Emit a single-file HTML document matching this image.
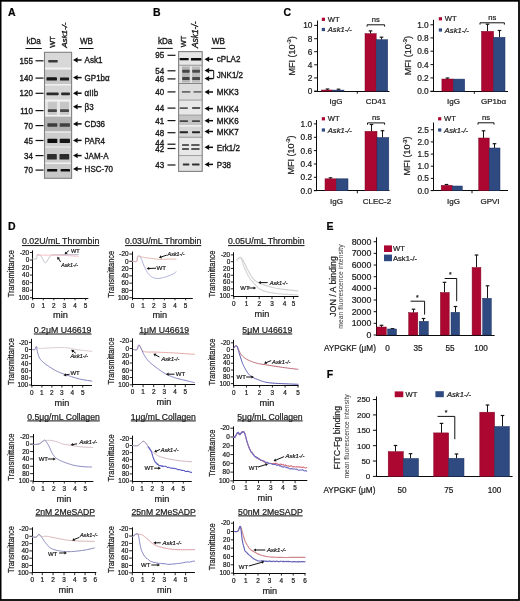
<!DOCTYPE html>
<html><head><meta charset="utf-8"><title>Figure</title>
<style>html,body{margin:0;padding:0;background:#fff;}body{width:520px;height:601px;overflow:hidden;font-family:"Liberation Sans",sans-serif;}svg{display:block;filter:blur(0.3px);}</style>
</head><body>
<svg width="520" height="601" viewBox="0 0 520 601" font-family="Liberation Sans, sans-serif">
<style>text{stroke:#1c1c1c;stroke-width:0.22px;}</style>
<defs><filter id="bl" x="-20%" y="-80%" width="140%" height="260%"><feGaussianBlur stdDeviation="0.45"/></filter></defs>
<rect x="0" y="0" width="520" height="601" fill="#ffffff"/>
<text x="7.9" y="15.9" font-size="10.5" text-anchor="start" font-weight="bold" fill="#000">A</text>
<text x="153.0" y="15.8" font-size="10.5" text-anchor="start" font-weight="bold" fill="#000">B</text>
<text x="283.4" y="15.6" font-size="10.5" text-anchor="start" font-weight="bold" fill="#000">C</text>
<text x="7.9" y="230.4" font-size="10.5" text-anchor="start" font-weight="bold" fill="#000">D</text>
<text x="326.6" y="230.3" font-size="10.5" text-anchor="start" font-weight="bold" fill="#000">E</text>
<text x="326.8" y="378.4" font-size="10.5" text-anchor="start" font-weight="bold" fill="#000">F</text>
<text x="0" y="0" font-size="8.7" text-anchor="middle" fill="#1c1c1c" transform="translate(33.6 43.6) scale(0.93 1)" style="stroke-width:0.38px">kDa</text>
<line x1="25.5" y1="48.5" x2="41.8" y2="48.5" stroke="#111" stroke-width="1.0"/>
<text x="0" y="0" font-size="8.7" text-anchor="middle" fill="#1c1c1c" transform="translate(86.5 43.6) scale(0.93 1)" style="stroke-width:0.38px">WB</text>
<line x1="79.0" y1="48.5" x2="93.6" y2="48.5" stroke="#111" stroke-width="1.0"/>
<text x="55.3" y="47.7" font-size="7.4" text-anchor="start" fill="#1c1c1c" transform="rotate(-90 55.3 47.7)" style="stroke-width:0.38px">WT</text>
<text x="67.1" y="47.8" font-size="8.0" text-anchor="start" font-style="italic" fill="#1c1c1c" transform="rotate(-90 67.1 47.8)" style="stroke-width:0.38px">Ask1-/-</text>
<rect x="44.10" y="52.00" width="27.80" height="126.50" fill="#f2f2f2"/>
<rect x="44.60" y="52.40" width="26.80" height="15.10" fill="#d8d8d8"/>
<rect x="44.60" y="69.60" width="26.80" height="14.40" fill="#c6c6c6"/>
<rect x="44.60" y="85.50" width="26.80" height="14.00" fill="#d6d6d6"/>
<rect x="44.60" y="101.50" width="26.80" height="13.50" fill="#e6e6e6"/>
<rect x="47.80" y="101.80" width="9.10" height="13.00" fill="#c6c6c6"/>
<rect x="60.00" y="101.80" width="9.00" height="13.00" fill="#c6c6c6"/>
<rect x="44.60" y="116.60" width="26.80" height="14.70" fill="#b2b2b2"/>
<rect x="44.60" y="132.60" width="26.80" height="14.00" fill="#cdcdcd"/>
<rect x="44.60" y="147.50" width="26.80" height="15.00" fill="#cccccc"/>
<rect x="44.60" y="164.00" width="26.80" height="14.00" fill="#c8c8c8"/>
<rect x="48.20" y="60.00" width="9.50" height="2.40" rx="0.6" fill="#3a3a3a" filter="url(#bl)"/>
<rect x="46.50" y="77.30" width="10.40" height="3.20" rx="0.6" fill="#121212" filter="url(#bl)"/>
<rect x="60.00" y="77.50" width="9.00" height="3.00" rx="0.6" fill="#1a1a1a" filter="url(#bl)"/>
<rect x="46.50" y="92.60" width="12.10" height="2.60" rx="0.6" fill="#2a2a2a" filter="url(#bl)"/>
<rect x="61.20" y="92.60" width="8.70" height="2.60" rx="0.6" fill="#2a2a2a" filter="url(#bl)"/>
<rect x="47.80" y="109.30" width="9.10" height="2.60" rx="0.6" fill="#444" filter="url(#bl)"/>
<rect x="60.00" y="109.30" width="9.00" height="2.60" rx="0.6" fill="#444" filter="url(#bl)"/>
<rect x="47.40" y="123.20" width="9.90" height="3.60" rx="0.6" fill="#3c3c3c" filter="url(#bl)"/>
<rect x="59.70" y="123.20" width="10.20" height="3.60" rx="0.6" fill="#404040" filter="url(#bl)"/>
<rect x="47.40" y="138.80" width="9.90" height="4.20" rx="0.6" fill="#0e0e0e" filter="url(#bl)"/>
<rect x="59.70" y="138.80" width="10.20" height="4.20" rx="0.6" fill="#121212" filter="url(#bl)"/>
<rect x="47.10" y="154.10" width="9.70" height="5.40" rx="0.6" fill="#2e2e2e" filter="url(#bl)"/>
<rect x="59.50" y="154.10" width="9.70" height="5.40" rx="0.6" fill="#2a2a2a" filter="url(#bl)"/>
<rect x="47.10" y="169.00" width="10.10" height="2.60" rx="0.6" fill="#0a0a0a" filter="url(#bl)"/>
<rect x="60.60" y="169.10" width="9.40" height="2.40" rx="0.6" fill="#0e0e0e" filter="url(#bl)"/>
<rect x="44.50" y="52.30" width="27.10" height="126.00" fill="none" stroke="#808080" stroke-width="1.1"/>
<text x="0" y="0" font-size="8.6" text-anchor="end" fill="#1c1c1c" transform="translate(32.9 63.8) scale(0.93 1)" style="stroke-width:0.38px">155</text>
<line x1="35.5" y1="60.8" x2="43.5" y2="60.8" stroke="#111" stroke-width="1.2"/>
<text x="0" y="0" font-size="8.6" text-anchor="end" fill="#1c1c1c" transform="translate(32.9 81.1) scale(0.93 1)" style="stroke-width:0.38px">140</text>
<line x1="35.5" y1="78.1" x2="43.5" y2="78.1" stroke="#111" stroke-width="1.2"/>
<text x="0" y="0" font-size="8.6" text-anchor="end" fill="#1c1c1c" transform="translate(32.9 96.3) scale(0.93 1)" style="stroke-width:0.38px">120</text>
<line x1="35.5" y1="93.3" x2="43.5" y2="93.3" stroke="#111" stroke-width="1.2"/>
<text x="0" y="0" font-size="8.6" text-anchor="end" fill="#1c1c1c" transform="translate(32.9 113.6) scale(0.93 1)" style="stroke-width:0.38px">110</text>
<line x1="35.5" y1="110.6" x2="43.5" y2="110.6" stroke="#111" stroke-width="1.2"/>
<text x="0" y="0" font-size="8.6" text-anchor="end" fill="#1c1c1c" transform="translate(32.9 128.6) scale(0.93 1)" style="stroke-width:0.38px">70</text>
<line x1="35.5" y1="125.6" x2="43.5" y2="125.6" stroke="#111" stroke-width="1.2"/>
<text x="0" y="0" font-size="8.6" text-anchor="end" fill="#1c1c1c" transform="translate(32.9 143.5) scale(0.93 1)" style="stroke-width:0.38px">45</text>
<line x1="35.5" y1="140.5" x2="43.5" y2="140.5" stroke="#111" stroke-width="1.2"/>
<text x="0" y="0" font-size="8.6" text-anchor="end" fill="#1c1c1c" transform="translate(32.9 158.6) scale(0.93 1)" style="stroke-width:0.38px">34</text>
<line x1="35.5" y1="155.6" x2="43.5" y2="155.6" stroke="#111" stroke-width="1.2"/>
<text x="0" y="0" font-size="8.6" text-anchor="end" fill="#1c1c1c" transform="translate(32.9 173.1) scale(0.93 1)" style="stroke-width:0.38px">70</text>
<line x1="35.5" y1="170.1" x2="43.5" y2="170.1" stroke="#111" stroke-width="1.2"/>
<line x1="76.84" y1="60.0" x2="81.6" y2="60.0" stroke="#0a0a0a" stroke-width="1.5"/>
<path d="M73.0,60.0 L77.8,57.3 L77.416,60.0 L77.8,62.7 Z" fill="#0a0a0a"/>
<text x="0" y="0" font-size="8.8" text-anchor="start" fill="#1c1c1c" transform="translate(84.6 63.2) scale(0.91 1)" style="stroke-width:0.38px">Ask1</text>
<line x1="76.84" y1="77.6" x2="81.6" y2="77.6" stroke="#0a0a0a" stroke-width="1.5"/>
<path d="M73.0,77.6 L77.8,74.89999999999999 L77.416,77.6 L77.8,80.3 Z" fill="#0a0a0a"/>
<text x="0" y="0" font-size="8.8" text-anchor="start" fill="#1c1c1c" transform="translate(84.6 80.8) scale(0.91 1)" style="stroke-width:0.38px">GP1bα</text>
<line x1="76.84" y1="93.2" x2="81.6" y2="93.2" stroke="#0a0a0a" stroke-width="1.5"/>
<path d="M73.0,93.2 L77.8,90.5 L77.416,93.2 L77.8,95.9 Z" fill="#0a0a0a"/>
<text x="0" y="0" font-size="8.8" text-anchor="start" fill="#1c1c1c" transform="translate(84.6 96.4) scale(0.91 1)" style="stroke-width:0.38px">αIIb</text>
<line x1="76.84" y1="106.8" x2="81.6" y2="106.8" stroke="#0a0a0a" stroke-width="1.5"/>
<path d="M73.0,106.8 L77.8,104.1 L77.416,106.8 L77.8,109.5 Z" fill="#0a0a0a"/>
<text x="0" y="0" font-size="8.8" text-anchor="start" fill="#1c1c1c" transform="translate(84.6 110.0) scale(0.91 1)" style="stroke-width:0.38px">β3</text>
<line x1="76.84" y1="123.9" x2="81.6" y2="123.9" stroke="#0a0a0a" stroke-width="1.5"/>
<path d="M73.0,123.9 L77.8,121.2 L77.416,123.9 L77.8,126.60000000000001 Z" fill="#0a0a0a"/>
<text x="0" y="0" font-size="8.8" text-anchor="start" fill="#1c1c1c" transform="translate(84.6 127.10000000000001) scale(0.91 1)" style="stroke-width:0.38px">CD36</text>
<line x1="76.84" y1="140.4" x2="81.6" y2="140.4" stroke="#0a0a0a" stroke-width="1.5"/>
<path d="M73.0,140.4 L77.8,137.70000000000002 L77.416,140.4 L77.8,143.1 Z" fill="#0a0a0a"/>
<text x="0" y="0" font-size="8.8" text-anchor="start" fill="#1c1c1c" transform="translate(84.6 143.6) scale(0.91 1)" style="stroke-width:0.38px">PAR4</text>
<line x1="76.84" y1="155.6" x2="81.6" y2="155.6" stroke="#0a0a0a" stroke-width="1.5"/>
<path d="M73.0,155.6 L77.8,152.9 L77.416,155.6 L77.8,158.29999999999998 Z" fill="#0a0a0a"/>
<text x="0" y="0" font-size="8.8" text-anchor="start" fill="#1c1c1c" transform="translate(84.6 158.79999999999998) scale(0.91 1)" style="stroke-width:0.38px">JAM-A</text>
<line x1="76.84" y1="168.9" x2="81.6" y2="168.9" stroke="#0a0a0a" stroke-width="1.5"/>
<path d="M73.0,168.9 L77.8,166.20000000000002 L77.416,168.9 L77.8,171.6 Z" fill="#0a0a0a"/>
<text x="0" y="0" font-size="8.8" text-anchor="start" fill="#1c1c1c" transform="translate(84.6 172.1) scale(0.91 1)" style="stroke-width:0.38px">HSC-70</text>
<text x="0" y="0" font-size="8.7" text-anchor="middle" fill="#1c1c1c" transform="translate(165.1 43.6) scale(0.93 1)" style="stroke-width:0.38px">kDa</text>
<line x1="157.2" y1="48.4" x2="172.8" y2="48.4" stroke="#111" stroke-width="1.0"/>
<text x="0" y="0" font-size="8.7" text-anchor="middle" fill="#1c1c1c" transform="translate(218.4 43.6) scale(0.93 1)" style="stroke-width:0.38px">WB</text>
<line x1="211.2" y1="48.4" x2="225.6" y2="48.4" stroke="#111" stroke-width="1.0"/>
<text x="186.3" y="47.3" font-size="7.4" text-anchor="start" fill="#1c1c1c" transform="rotate(-90 186.3 47.3)" style="stroke-width:0.38px">WT</text>
<text x="198.4" y="48.0" font-size="8.4" text-anchor="start" font-style="italic" fill="#1c1c1c" transform="rotate(-90 198.4 48.0)" style="stroke-width:0.38px">Ask1-/-</text>
<rect x="178.30" y="51.30" width="24.10" height="120.30" fill="#f2f2f2"/>
<rect x="178.80" y="51.80" width="23.10" height="13.50" fill="#e6e6e6"/>
<line x1="178.8" y1="65.3" x2="201.9" y2="65.3" stroke="#7a7a7a" stroke-width="0.9"/>
<rect x="178.80" y="65.80" width="23.10" height="17.70" fill="#e2e2e2"/>
<line x1="178.8" y1="83.5" x2="201.9" y2="83.5" stroke="#7a7a7a" stroke-width="0.9"/>
<rect x="182.00" y="66.50" width="7.80" height="16.00" fill="#b4b4b4"/>
<rect x="192.00" y="66.50" width="8.00" height="16.00" fill="#bcbcbc"/>
<rect x="178.80" y="84.00" width="23.10" height="16.20" fill="#dddddd"/>
<line x1="178.8" y1="100.2" x2="201.9" y2="100.2" stroke="#7a7a7a" stroke-width="0.9"/>
<rect x="178.80" y="100.70" width="23.10" height="14.50" fill="#e8e8e8"/>
<line x1="178.8" y1="115.2" x2="201.9" y2="115.2" stroke="#7a7a7a" stroke-width="0.9"/>
<rect x="178.80" y="115.70" width="23.10" height="9.60" fill="#c4c4c4"/>
<rect x="178.80" y="125.30" width="23.10" height="1.30" fill="#f2f2f2"/>
<rect x="178.80" y="126.60" width="23.10" height="10.70" fill="#d6d6d6"/>
<line x1="178.8" y1="137.3" x2="201.9" y2="137.3" stroke="#7a7a7a" stroke-width="0.9"/>
<rect x="178.80" y="137.80" width="23.10" height="18.00" fill="#e8e8e8"/>
<line x1="178.8" y1="155.8" x2="201.9" y2="155.8" stroke="#7a7a7a" stroke-width="0.9"/>
<rect x="178.80" y="156.30" width="23.10" height="14.90" fill="#e2e2e2"/>
<rect x="179.60" y="57.90" width="9.10" height="2.40" rx="0.6" fill="#0c0c0c" filter="url(#bl)"/>
<rect x="190.90" y="58.10" width="10.60" height="2.40" rx="0.6" fill="#0c0c0c" filter="url(#bl)"/>
<rect x="182.20" y="69.70" width="7.40" height="3.00" rx="0.6" fill="#444" filter="url(#bl)"/>
<rect x="192.20" y="69.70" width="7.80" height="3.00" rx="0.6" fill="#4c4c4c" filter="url(#bl)"/>
<rect x="182.20" y="77.00" width="7.40" height="3.00" rx="0.6" fill="#404040" filter="url(#bl)"/>
<rect x="192.20" y="77.10" width="7.80" height="3.00" rx="0.6" fill="#484848" filter="url(#bl)"/>
<rect x="181.80" y="91.00" width="8.60" height="1.80" rx="0.6" fill="#6a6a6a" filter="url(#bl)"/>
<rect x="193.50" y="91.00" width="8.20" height="1.80" rx="0.6" fill="#707070" filter="url(#bl)"/>
<rect x="179.60" y="107.20" width="8.30" height="1.80" rx="0.6" fill="#5a5a5a" filter="url(#bl)"/>
<rect x="192.00" y="107.10" width="8.20" height="1.80" rx="0.6" fill="#555" filter="url(#bl)"/>
<rect x="179.60" y="120.30" width="8.40" height="1.80" rx="0.6" fill="#444" filter="url(#bl)"/>
<rect x="192.00" y="120.30" width="8.00" height="1.80" rx="0.6" fill="#444" filter="url(#bl)"/>
<rect x="179.60" y="131.20" width="8.40" height="2.00" rx="0.6" fill="#222" filter="url(#bl)"/>
<rect x="192.00" y="131.20" width="8.00" height="2.00" rx="0.6" fill="#222" filter="url(#bl)"/>
<rect x="182.00" y="144.00" width="7.00" height="2.00" rx="0.6" fill="#5a5a5a" filter="url(#bl)"/>
<rect x="191.20" y="144.00" width="8.40" height="2.00" rx="0.6" fill="#5a5a5a" filter="url(#bl)"/>
<rect x="182.00" y="148.00" width="7.00" height="2.00" rx="0.6" fill="#555" filter="url(#bl)"/>
<rect x="191.20" y="148.00" width="8.40" height="2.00" rx="0.6" fill="#555" filter="url(#bl)"/>
<rect x="182.80" y="163.60" width="6.60" height="1.80" rx="0.6" fill="#333" filter="url(#bl)"/>
<rect x="192.00" y="163.60" width="7.60" height="1.80" rx="0.6" fill="#333" filter="url(#bl)"/>
<rect x="178.60" y="51.60" width="23.60" height="119.80" fill="none" stroke="#808080" stroke-width="1.1"/>
<text x="0" y="0" font-size="8.6" text-anchor="end" fill="#1c1c1c" transform="translate(164.2 58.39999999999999) scale(0.93 1)" style="stroke-width:0.38px">95</text>
<line x1="167.5" y1="55.3" x2="175.5" y2="55.3" stroke="#111" stroke-width="1.2"/>
<text x="0" y="0" font-size="8.6" text-anchor="end" fill="#1c1c1c" transform="translate(164.2 73.89999999999999) scale(0.93 1)" style="stroke-width:0.38px">54</text>
<line x1="167.5" y1="70.8" x2="175.5" y2="70.8" stroke="#111" stroke-width="1.2"/>
<text x="0" y="0" font-size="8.6" text-anchor="end" fill="#1c1c1c" transform="translate(164.2 82.0) scale(0.93 1)" style="stroke-width:0.38px">46</text>
<line x1="167.5" y1="78.9" x2="175.5" y2="78.9" stroke="#111" stroke-width="1.2"/>
<text x="0" y="0" font-size="8.6" text-anchor="end" fill="#1c1c1c" transform="translate(164.2 95.0) scale(0.93 1)" style="stroke-width:0.38px">40</text>
<line x1="167.5" y1="91.9" x2="175.5" y2="91.9" stroke="#111" stroke-width="1.2"/>
<text x="0" y="0" font-size="8.6" text-anchor="end" fill="#1c1c1c" transform="translate(164.2 111.19999999999999) scale(0.93 1)" style="stroke-width:0.38px">44</text>
<line x1="167.5" y1="108.1" x2="175.5" y2="108.1" stroke="#111" stroke-width="1.2"/>
<text x="0" y="0" font-size="8.6" text-anchor="end" fill="#1c1c1c" transform="translate(164.2 123.69999999999999) scale(0.93 1)" style="stroke-width:0.38px">41</text>
<line x1="167.5" y1="120.6" x2="175.5" y2="120.6" stroke="#111" stroke-width="1.2"/>
<text x="0" y="0" font-size="8.6" text-anchor="end" fill="#1c1c1c" transform="translate(164.2 135.8) scale(0.93 1)" style="stroke-width:0.38px">48</text>
<line x1="167.5" y1="132.7" x2="175.5" y2="132.7" stroke="#111" stroke-width="1.2"/>
<text x="0" y="0" font-size="8.6" text-anchor="end" fill="#1c1c1c" transform="translate(164.2 146.2) scale(0.93 1)" style="stroke-width:0.38px">44</text>
<line x1="167.5" y1="144.2" x2="175.5" y2="144.2" stroke="#111" stroke-width="1.2"/>
<text x="0" y="0" font-size="8.6" text-anchor="end" fill="#1c1c1c" transform="translate(164.2 152.4) scale(0.93 1)" style="stroke-width:0.38px">42</text>
<line x1="167.5" y1="148.5" x2="175.5" y2="148.5" stroke="#111" stroke-width="1.2"/>
<text x="0" y="0" font-size="8.6" text-anchor="end" fill="#1c1c1c" transform="translate(164.2 168.10000000000002) scale(0.93 1)" style="stroke-width:0.38px">43</text>
<line x1="167.5" y1="165.0" x2="175.5" y2="165.0" stroke="#111" stroke-width="1.2"/>
<line x1="208.34" y1="59.2" x2="213.0" y2="59.2" stroke="#0a0a0a" stroke-width="1.5"/>
<path d="M204.5,59.2 L209.3,56.5 L208.916,59.2 L209.3,61.900000000000006 Z" fill="#0a0a0a"/>
<text x="0" y="0" font-size="8.8" text-anchor="start" fill="#1c1c1c" transform="translate(216.8 62.400000000000006) scale(0.91 1)" style="stroke-width:0.38px">cPLA2</text>
<line x1="208.34" y1="92.0" x2="213.0" y2="92.0" stroke="#0a0a0a" stroke-width="1.5"/>
<path d="M204.5,92.0 L209.3,89.3 L208.916,92.0 L209.3,94.7 Z" fill="#0a0a0a"/>
<text x="0" y="0" font-size="8.8" text-anchor="start" fill="#1c1c1c" transform="translate(216.8 95.2) scale(0.91 1)" style="stroke-width:0.38px">MKK3</text>
<line x1="208.34" y1="108.6" x2="213.0" y2="108.6" stroke="#0a0a0a" stroke-width="1.5"/>
<path d="M204.5,108.6 L209.3,105.89999999999999 L208.916,108.6 L209.3,111.3 Z" fill="#0a0a0a"/>
<text x="0" y="0" font-size="8.8" text-anchor="start" fill="#1c1c1c" transform="translate(216.8 111.8) scale(0.91 1)" style="stroke-width:0.38px">MKK4</text>
<line x1="208.34" y1="120.7" x2="213.0" y2="120.7" stroke="#0a0a0a" stroke-width="1.5"/>
<path d="M204.5,120.7 L209.3,118.0 L208.916,120.7 L209.3,123.4 Z" fill="#0a0a0a"/>
<text x="0" y="0" font-size="8.8" text-anchor="start" fill="#1c1c1c" transform="translate(216.8 123.9) scale(0.91 1)" style="stroke-width:0.38px">MKK6</text>
<line x1="208.34" y1="131.5" x2="213.0" y2="131.5" stroke="#0a0a0a" stroke-width="1.5"/>
<path d="M204.5,131.5 L209.3,128.8 L208.916,131.5 L209.3,134.2 Z" fill="#0a0a0a"/>
<text x="0" y="0" font-size="8.8" text-anchor="start" fill="#1c1c1c" transform="translate(216.8 134.7) scale(0.91 1)" style="stroke-width:0.38px">MKK7</text>
<line x1="208.34" y1="147.3" x2="213.0" y2="147.3" stroke="#0a0a0a" stroke-width="1.5"/>
<path d="M204.5,147.3 L209.3,144.60000000000002 L208.916,147.3 L209.3,150.0 Z" fill="#0a0a0a"/>
<text x="0" y="0" font-size="8.8" text-anchor="start" fill="#1c1c1c" transform="translate(216.8 150.5) scale(0.91 1)" style="stroke-width:0.38px">Erk1/2</text>
<line x1="208.34" y1="164.4" x2="213.0" y2="164.4" stroke="#0a0a0a" stroke-width="1.5"/>
<path d="M204.5,164.4 L209.3,161.70000000000002 L208.916,164.4 L209.3,167.1 Z" fill="#0a0a0a"/>
<text x="0" y="0" font-size="8.8" text-anchor="start" fill="#1c1c1c" transform="translate(216.8 167.6) scale(0.91 1)" style="stroke-width:0.38px">P38</text>
<line x1="208.34" y1="70.5" x2="212.5" y2="70.5" stroke="#0a0a0a" stroke-width="1.5"/>
<path d="M204.5,70.5 L209.3,67.8 L208.916,70.5 L209.3,73.2 Z" fill="#0a0a0a"/>
<line x1="208.34" y1="78.6" x2="212.5" y2="78.6" stroke="#0a0a0a" stroke-width="1.5"/>
<path d="M204.5,78.6 L209.3,75.89999999999999 L208.916,78.6 L209.3,81.3 Z" fill="#0a0a0a"/>
<path d="M212.0,70.5 L213.7,70.5 L213.7,78.6 L212.0,78.6" stroke="#111" stroke-width="1.0" fill="none"/>
<text x="0" y="0" font-size="8.8" text-anchor="start" fill="#1c1c1c" transform="translate(216.8 78.0) scale(0.91 1)" style="stroke-width:0.38px">JNK1/2</text>
<line x1="317.5" y1="20.5" x2="317.5" y2="92.0" stroke="#0a0a0a" stroke-width="1.0"/>
<line x1="314.2" y1="91.5" x2="389.5" y2="91.5" stroke="#0a0a0a" stroke-width="1.0"/>
<line x1="314.2" y1="25.4" x2="317.0" y2="25.4" stroke="#111" stroke-width="1.0"/>
<text x="312.4" y="28.4" font-size="8.3" text-anchor="end" fill="#1c1c1c">10</text>
<line x1="314.2" y1="38.7" x2="317.0" y2="38.7" stroke="#111" stroke-width="1.0"/>
<text x="312.4" y="41.7" font-size="8.3" text-anchor="end" fill="#1c1c1c">8</text>
<line x1="314.2" y1="51.7" x2="317.0" y2="51.7" stroke="#111" stroke-width="1.0"/>
<text x="312.4" y="54.7" font-size="8.3" text-anchor="end" fill="#1c1c1c">6</text>
<line x1="314.2" y1="64.8" x2="317.0" y2="64.8" stroke="#111" stroke-width="1.0"/>
<text x="312.4" y="67.8" font-size="8.3" text-anchor="end" fill="#1c1c1c">4</text>
<line x1="314.2" y1="77.9" x2="317.0" y2="77.9" stroke="#111" stroke-width="1.0"/>
<text x="312.4" y="80.9" font-size="8.3" text-anchor="end" fill="#1c1c1c">2</text>
<line x1="314.2" y1="91.1" x2="317.0" y2="91.1" stroke="#111" stroke-width="1.0"/>
<text x="312.4" y="94.1" font-size="8.3" text-anchor="end" fill="#1c1c1c">0</text>
<line x1="357.3" y1="91.1" x2="357.3" y2="93.69999999999999" stroke="#111" stroke-width="1.0"/>
<line x1="327.5" y1="90.0" x2="327.5" y2="89.0" stroke="#151515" stroke-width="1.0"/>
<line x1="325.7" y1="89.0" x2="329.3" y2="89.0" stroke="#151515" stroke-width="1.2"/>
<rect x="321.50" y="90.00" width="11.00" height="1.10" fill="#ab0731" stroke="#7e0a26" stroke-width="0.5"/>
<line x1="338.5" y1="90.1" x2="338.5" y2="89.2" stroke="#151515" stroke-width="1.0"/>
<line x1="336.7" y1="89.2" x2="340.3" y2="89.2" stroke="#151515" stroke-width="1.2"/>
<rect x="332.50" y="90.10" width="11.50" height="1.00" fill="#2f4a80" stroke="#1c3260" stroke-width="0.5"/>
<line x1="370.5" y1="33.6" x2="370.5" y2="30.9" stroke="#151515" stroke-width="1.0"/>
<line x1="368.7" y1="30.9" x2="372.3" y2="30.9" stroke="#151515" stroke-width="1.2"/>
<rect x="365.00" y="33.60" width="11.20" height="57.50" fill="#ab0731" stroke="#7e0a26" stroke-width="0.5"/>
<line x1="381.5" y1="39.7" x2="381.5" y2="37.2" stroke="#151515" stroke-width="1.0"/>
<line x1="379.7" y1="37.2" x2="383.3" y2="37.2" stroke="#151515" stroke-width="1.2"/>
<rect x="376.20" y="39.70" width="11.50" height="51.40" fill="#2f4a80" stroke="#1c3260" stroke-width="0.5"/>
<text x="336.0" y="104.0" font-size="8.0" text-anchor="middle" fill="#1c1c1c">IgG</text>
<text x="376.0" y="104.0" font-size="8.0" text-anchor="middle" fill="#1c1c1c">CD41</text>
<text x="294.6" y="55.8" font-size="9.0" text-anchor="middle" fill="#1c1c1c" transform="rotate(-90 294.6 55.8)">MFI (10<tspan font-size="5.8" dy="-3.6">-3</tspan><tspan dy="3.6">)</tspan></text>
<path d="M367.1,26.6 L367.1,24.8 L384.6,24.8 L384.6,26.6" stroke="#111" stroke-width="1.0" fill="none"/>
<text x="375.85" y="21.8" font-size="7.6" text-anchor="middle" fill="#1c1c1c">ns</text>
<rect x="321.80" y="17.70" width="3.20" height="3.20" fill="#ab0731"/>
<text x="327.8" y="21.900000000000002" font-size="7.6" text-anchor="start" fill="#1c1c1c">WT</text>
<rect x="321.80" y="27.90" width="3.20" height="3.20" fill="#2f4a80"/>
<text x="327.8" y="32.1" font-size="7.6" text-anchor="start" font-style="italic" fill="#1c1c1c">Ask1-/-</text>
<line x1="433.5" y1="19.8" x2="433.5" y2="92.0" stroke="#0a0a0a" stroke-width="1.0"/>
<line x1="430.5" y1="91.5" x2="508.0" y2="91.5" stroke="#0a0a0a" stroke-width="1.0"/>
<line x1="430.5" y1="24.8" x2="433.3" y2="24.8" stroke="#111" stroke-width="1.0"/>
<text x="428.7" y="27.8" font-size="8.3" text-anchor="end" fill="#1c1c1c">1.0</text>
<line x1="430.5" y1="37.9" x2="433.3" y2="37.9" stroke="#111" stroke-width="1.0"/>
<text x="428.7" y="40.9" font-size="8.3" text-anchor="end" fill="#1c1c1c">0.8</text>
<line x1="430.5" y1="51.2" x2="433.3" y2="51.2" stroke="#111" stroke-width="1.0"/>
<text x="428.7" y="54.2" font-size="8.3" text-anchor="end" fill="#1c1c1c">0.6</text>
<line x1="430.5" y1="64.6" x2="433.3" y2="64.6" stroke="#111" stroke-width="1.0"/>
<text x="428.7" y="67.6" font-size="8.3" text-anchor="end" fill="#1c1c1c">0.4</text>
<line x1="430.5" y1="77.9" x2="433.3" y2="77.9" stroke="#111" stroke-width="1.0"/>
<text x="428.7" y="80.9" font-size="8.3" text-anchor="end" fill="#1c1c1c">0.2</text>
<line x1="430.5" y1="91.2" x2="433.3" y2="91.2" stroke="#111" stroke-width="1.0"/>
<text x="428.7" y="94.2" font-size="8.3" text-anchor="end" fill="#1c1c1c">0.0</text>
<line x1="474.3" y1="91.2" x2="474.3" y2="93.8" stroke="#111" stroke-width="1.0"/>
<line x1="447.5" y1="79.0" x2="447.5" y2="78.0" stroke="#151515" stroke-width="1.0"/>
<line x1="445.7" y1="78.0" x2="449.3" y2="78.0" stroke="#151515" stroke-width="1.2"/>
<rect x="441.90" y="79.00" width="11.50" height="12.20" fill="#ab0731" stroke="#7e0a26" stroke-width="0.5"/>
<rect x="453.40" y="79.10" width="11.30" height="12.10" fill="#2f4a80" stroke="#1c3260" stroke-width="0.5"/>
<line x1="487.5" y1="31.3" x2="487.5" y2="24.2" stroke="#151515" stroke-width="1.0"/>
<line x1="485.7" y1="24.2" x2="489.3" y2="24.2" stroke="#151515" stroke-width="1.2"/>
<rect x="481.50" y="31.30" width="12.10" height="59.90" fill="#ab0731" stroke="#7e0a26" stroke-width="0.5"/>
<line x1="499.5" y1="37.3" x2="499.5" y2="30.5" stroke="#151515" stroke-width="1.0"/>
<line x1="497.7" y1="30.5" x2="501.3" y2="30.5" stroke="#151515" stroke-width="1.2"/>
<rect x="493.60" y="37.30" width="11.40" height="53.90" fill="#2f4a80" stroke="#1c3260" stroke-width="0.5"/>
<text x="453.5" y="104.10000000000001" font-size="8.0" text-anchor="middle" fill="#1c1c1c">IgG</text>
<text x="493.5" y="104.10000000000001" font-size="8.0" text-anchor="middle" fill="#1c1c1c">GP1bα</text>
<text x="410.7" y="55.6" font-size="9.0" text-anchor="middle" fill="#1c1c1c" transform="rotate(-90 410.7 55.6)">MFI (10<tspan font-size="5.8" dy="-3.6">-3</tspan><tspan dy="3.6">)</tspan></text>
<path d="M480.0,24.6 L480.0,22.8 L504.4,22.8 L504.4,24.6" stroke="#111" stroke-width="1.0" fill="none"/>
<text x="492.2" y="19.8" font-size="7.6" text-anchor="middle" fill="#1c1c1c">ns</text>
<rect x="438.80" y="17.20" width="3.20" height="3.20" fill="#ab0731"/>
<text x="444.8" y="21.400000000000002" font-size="7.6" text-anchor="start" fill="#1c1c1c">WT</text>
<rect x="438.80" y="28.40" width="3.20" height="3.20" fill="#2f4a80"/>
<text x="444.8" y="32.6" font-size="7.6" text-anchor="start" font-style="italic" fill="#1c1c1c">Ask1-/-</text>
<line x1="316.5" y1="120.0" x2="316.5" y2="191.0" stroke="#0a0a0a" stroke-width="1.0"/>
<line x1="313.9" y1="190.5" x2="389.5" y2="190.5" stroke="#0a0a0a" stroke-width="1.0"/>
<line x1="313.9" y1="123.9" x2="316.7" y2="123.9" stroke="#111" stroke-width="1.0"/>
<text x="312.09999999999997" y="126.9" font-size="8.3" text-anchor="end" fill="#1c1c1c">1.0</text>
<line x1="313.9" y1="137.3" x2="316.7" y2="137.3" stroke="#111" stroke-width="1.0"/>
<text x="312.09999999999997" y="140.3" font-size="8.3" text-anchor="end" fill="#1c1c1c">0.8</text>
<line x1="313.9" y1="150.6" x2="316.7" y2="150.6" stroke="#111" stroke-width="1.0"/>
<text x="312.09999999999997" y="153.6" font-size="8.3" text-anchor="end" fill="#1c1c1c">0.6</text>
<line x1="313.9" y1="164.0" x2="316.7" y2="164.0" stroke="#111" stroke-width="1.0"/>
<text x="312.09999999999997" y="167.0" font-size="8.3" text-anchor="end" fill="#1c1c1c">0.4</text>
<line x1="313.9" y1="177.3" x2="316.7" y2="177.3" stroke="#111" stroke-width="1.0"/>
<text x="312.09999999999997" y="180.3" font-size="8.3" text-anchor="end" fill="#1c1c1c">0.2</text>
<line x1="313.9" y1="190.7" x2="316.7" y2="190.7" stroke="#111" stroke-width="1.0"/>
<text x="312.09999999999997" y="193.7" font-size="8.3" text-anchor="end" fill="#1c1c1c">0.0</text>
<line x1="357.3" y1="190.7" x2="357.3" y2="193.29999999999998" stroke="#111" stroke-width="1.0"/>
<line x1="330.5" y1="178.8" x2="330.5" y2="177.8" stroke="#151515" stroke-width="1.0"/>
<line x1="328.7" y1="177.8" x2="332.3" y2="177.8" stroke="#151515" stroke-width="1.2"/>
<rect x="325.00" y="178.80" width="11.30" height="11.90" fill="#ab0731" stroke="#7e0a26" stroke-width="0.5"/>
<rect x="336.30" y="178.80" width="11.70" height="11.90" fill="#2f4a80" stroke="#1c3260" stroke-width="0.5"/>
<line x1="371.5" y1="131.3" x2="371.5" y2="124.5" stroke="#151515" stroke-width="1.0"/>
<line x1="369.7" y1="124.5" x2="373.3" y2="124.5" stroke="#151515" stroke-width="1.2"/>
<rect x="365.00" y="131.30" width="12.00" height="59.40" fill="#ab0731" stroke="#7e0a26" stroke-width="0.5"/>
<line x1="382.5" y1="137.5" x2="382.5" y2="130.7" stroke="#151515" stroke-width="1.0"/>
<line x1="380.7" y1="130.7" x2="384.3" y2="130.7" stroke="#151515" stroke-width="1.2"/>
<rect x="377.00" y="137.50" width="11.80" height="53.20" fill="#2f4a80" stroke="#1c3260" stroke-width="0.5"/>
<text x="336.5" y="203.6" font-size="8.0" text-anchor="middle" fill="#1c1c1c">IgG</text>
<text x="377.0" y="203.6" font-size="8.0" text-anchor="middle" fill="#1c1c1c">CLEC-2</text>
<text x="293.8" y="155.0" font-size="9.0" text-anchor="middle" fill="#1c1c1c" transform="rotate(-90 293.8 155.0)">MFI (10<tspan font-size="5.8" dy="-3.6">-3</tspan><tspan dy="3.6">)</tspan></text>
<path d="M367.5,124.7 L367.5,122.9 L384.6,122.9 L384.6,124.7" stroke="#111" stroke-width="1.0" fill="none"/>
<text x="376.05" y="119.9" font-size="7.6" text-anchor="middle" fill="#1c1c1c">ns</text>
<rect x="321.80" y="117.20" width="3.20" height="3.20" fill="#ab0731"/>
<text x="327.8" y="121.39999999999999" font-size="7.6" text-anchor="start" fill="#1c1c1c">WT</text>
<rect x="321.80" y="128.40" width="3.20" height="3.20" fill="#2f4a80"/>
<text x="327.8" y="132.6" font-size="7.6" text-anchor="start" font-style="italic" fill="#1c1c1c">Ask1-/-</text>
<line x1="433.5" y1="122.5" x2="433.5" y2="191.0" stroke="#0a0a0a" stroke-width="1.0"/>
<line x1="430.8" y1="190.5" x2="508.0" y2="190.5" stroke="#0a0a0a" stroke-width="1.0"/>
<line x1="430.8" y1="129.8" x2="433.6" y2="129.8" stroke="#111" stroke-width="1.0"/>
<text x="429.0" y="132.8" font-size="8.3" text-anchor="end" fill="#1c1c1c">2.5</text>
<line x1="430.8" y1="141.9" x2="433.6" y2="141.9" stroke="#111" stroke-width="1.0"/>
<text x="429.0" y="144.9" font-size="8.3" text-anchor="end" fill="#1c1c1c">2.0</text>
<line x1="430.8" y1="154.1" x2="433.6" y2="154.1" stroke="#111" stroke-width="1.0"/>
<text x="429.0" y="157.1" font-size="8.3" text-anchor="end" fill="#1c1c1c">1.5</text>
<line x1="430.8" y1="166.2" x2="433.6" y2="166.2" stroke="#111" stroke-width="1.0"/>
<text x="429.0" y="169.2" font-size="8.3" text-anchor="end" fill="#1c1c1c">1.0</text>
<line x1="430.8" y1="178.4" x2="433.6" y2="178.4" stroke="#111" stroke-width="1.0"/>
<text x="429.0" y="181.4" font-size="8.3" text-anchor="end" fill="#1c1c1c">0.5</text>
<line x1="430.8" y1="190.6" x2="433.6" y2="190.6" stroke="#111" stroke-width="1.0"/>
<text x="429.0" y="193.6" font-size="8.3" text-anchor="end" fill="#1c1c1c">0.0</text>
<line x1="472.0" y1="190.6" x2="472.0" y2="193.2" stroke="#111" stroke-width="1.0"/>
<line x1="446.5" y1="185.3" x2="446.5" y2="184.5" stroke="#151515" stroke-width="1.0"/>
<line x1="444.7" y1="184.5" x2="448.3" y2="184.5" stroke="#151515" stroke-width="1.2"/>
<rect x="441.20" y="185.30" width="11.00" height="5.30" fill="#ab0731" stroke="#7e0a26" stroke-width="0.5"/>
<rect x="452.20" y="186.00" width="10.10" height="4.60" fill="#2f4a80" stroke="#1c3260" stroke-width="0.5"/>
<line x1="483.5" y1="138.0" x2="483.5" y2="130.8" stroke="#151515" stroke-width="1.0"/>
<line x1="481.7" y1="130.8" x2="485.3" y2="130.8" stroke="#151515" stroke-width="1.2"/>
<rect x="478.70" y="138.00" width="10.50" height="52.60" fill="#ab0731" stroke="#7e0a26" stroke-width="0.5"/>
<line x1="494.5" y1="148.0" x2="494.5" y2="143.7" stroke="#151515" stroke-width="1.0"/>
<line x1="492.7" y1="143.7" x2="496.3" y2="143.7" stroke="#151515" stroke-width="1.2"/>
<rect x="489.20" y="148.00" width="10.80" height="42.60" fill="#2f4a80" stroke="#1c3260" stroke-width="0.5"/>
<text x="453.5" y="203.5" font-size="8.0" text-anchor="middle" fill="#1c1c1c">IgG</text>
<text x="490.0" y="203.5" font-size="8.0" text-anchor="middle" fill="#1c1c1c">GPVI</text>
<text x="410.4" y="156.0" font-size="9.0" text-anchor="middle" fill="#1c1c1c" transform="rotate(-90 410.4 156.0)">MFI (10<tspan font-size="5.8" dy="-3.6">-3</tspan><tspan dy="3.6">)</tspan></text>
<path d="M478.0,124.6 L478.0,122.8 L494.0,122.8 L494.0,124.6" stroke="#111" stroke-width="1.0" fill="none"/>
<text x="486.0" y="119.8" font-size="7.6" text-anchor="middle" fill="#1c1c1c">ns</text>
<rect x="438.10" y="117.20" width="3.20" height="3.20" fill="#ab0731"/>
<text x="444.1" y="121.39999999999999" font-size="7.6" text-anchor="start" fill="#1c1c1c">WT</text>
<rect x="438.10" y="128.40" width="3.20" height="3.20" fill="#2f4a80"/>
<text x="444.1" y="132.6" font-size="7.6" text-anchor="start" font-style="italic" fill="#1c1c1c">Ask1-/-</text>
<text x="60.65" y="244.2" font-size="8.6" text-anchor="middle" fill="#1c1c1c" textLength="77.3" lengthAdjust="spacingAndGlyphs">0.02U/mL Thrombin</text>
<line x1="22.0" y1="245.6" x2="99.3" y2="245.6" stroke="#111" stroke-width="1.0"/>
<line x1="32.5" y1="250.4" x2="32.5" y2="299.0" stroke="#0a0a0a" stroke-width="1.0"/>
<line x1="32.0" y1="298.5" x2="88.3" y2="298.5" stroke="#0a0a0a" stroke-width="1.0"/>
<line x1="29.9" y1="252.5" x2="32.8" y2="252.5" stroke="#111" stroke-width="0.9"/>
<text x="29.199999999999996" y="254.75" font-size="6.4" text-anchor="end" fill="#1c1c1c">-20</text>
<line x1="29.9" y1="260.0333333333333" x2="32.8" y2="260.0333333333333" stroke="#111" stroke-width="0.9"/>
<text x="29.199999999999996" y="262.2833333333333" font-size="6.4" text-anchor="end" fill="#1c1c1c">0</text>
<line x1="29.9" y1="267.56666666666666" x2="32.8" y2="267.56666666666666" stroke="#111" stroke-width="0.9"/>
<text x="29.199999999999996" y="269.81666666666666" font-size="6.4" text-anchor="end" fill="#1c1c1c">20</text>
<line x1="29.9" y1="275.09999999999997" x2="32.8" y2="275.09999999999997" stroke="#111" stroke-width="0.9"/>
<text x="29.199999999999996" y="277.34999999999997" font-size="6.4" text-anchor="end" fill="#1c1c1c">40</text>
<line x1="29.9" y1="282.6333333333333" x2="32.8" y2="282.6333333333333" stroke="#111" stroke-width="0.9"/>
<text x="29.199999999999996" y="284.8833333333333" font-size="6.4" text-anchor="end" fill="#1c1c1c">60</text>
<line x1="29.9" y1="290.16666666666663" x2="32.8" y2="290.16666666666663" stroke="#111" stroke-width="0.9"/>
<text x="29.199999999999996" y="292.41666666666663" font-size="6.4" text-anchor="end" fill="#1c1c1c">80</text>
<line x1="29.9" y1="297.7" x2="32.8" y2="297.7" stroke="#111" stroke-width="0.9"/>
<text x="29.199999999999996" y="299.95" font-size="6.4" text-anchor="end" fill="#1c1c1c">100</text>
<line x1="32.7" y1="298.0" x2="32.7" y2="300.3" stroke="#111" stroke-width="0.9"/>
<text x="32.7" y="307.5" font-size="6.4" text-anchor="middle" fill="#1c1c1c">0</text>
<line x1="43.3" y1="298.0" x2="43.3" y2="300.3" stroke="#111" stroke-width="0.9"/>
<text x="43.3" y="307.5" font-size="6.4" text-anchor="middle" fill="#1c1c1c">1</text>
<line x1="53.8" y1="298.0" x2="53.8" y2="300.3" stroke="#111" stroke-width="0.9"/>
<text x="53.8" y="307.5" font-size="6.4" text-anchor="middle" fill="#1c1c1c">2</text>
<line x1="64.4" y1="298.0" x2="64.4" y2="300.3" stroke="#111" stroke-width="0.9"/>
<text x="64.4" y="307.5" font-size="6.4" text-anchor="middle" fill="#1c1c1c">3</text>
<line x1="75.0" y1="298.0" x2="75.0" y2="300.3" stroke="#111" stroke-width="0.9"/>
<text x="75.0" y="307.5" font-size="6.4" text-anchor="middle" fill="#1c1c1c">4</text>
<line x1="85.6" y1="298.0" x2="85.6" y2="300.3" stroke="#111" stroke-width="0.9"/>
<text x="85.6" y="307.5" font-size="6.4" text-anchor="middle" fill="#1c1c1c">5</text>
<text x="13.8" y="273.7" font-size="8.2" text-anchor="middle" fill="#1c1c1c" transform="rotate(-90 13.8 273.7)" textLength="47" lengthAdjust="spacingAndGlyphs">Transmittance</text>
<text x="60.4" y="318.4" font-size="9.2" text-anchor="middle" fill="#1c1c1c">min</text>
<path d="M32.70,258.90 L32.90,258.91 L33.17,258.91 L33.49,258.92 L33.85,258.92 L34.24,258.93 L34.62,258.93 L35.00,258.93 L35.34,258.93 L35.64,258.92 L35.88,258.90 L36.06,258.89 L36.21,258.90 L36.32,258.91 L36.41,258.92 L36.48,258.93 L36.53,258.91 L36.58,258.87 L36.62,258.80 L36.67,258.69 L36.73,258.53 L36.78,258.29 L36.80,257.99 L36.81,257.62 L36.81,257.22 L36.81,256.81 L36.82,256.39 L36.85,256.00 L36.91,255.65 L37.01,255.35 L37.15,255.14 L37.35,254.99 L37.60,254.87 L37.88,254.79 L38.20,254.75 L38.53,254.74 L38.87,254.76 L39.21,254.81 L39.54,254.89 L39.85,255.00 L40.12,255.14 L40.36,255.31 L40.59,255.52 L40.80,255.77 L41.00,256.05 L41.20,256.36 L41.40,256.69 L41.59,257.04 L41.80,257.40 L42.01,257.77 L42.24,258.15 L42.49,258.57 L42.74,259.05 L43.01,259.59 L43.28,260.14 L43.56,260.69 L43.83,261.22 L44.11,261.71 L44.37,262.13 L44.63,262.46 L44.87,262.67 L45.10,262.78 L45.32,262.80 L45.53,262.74 L45.73,262.63 L45.93,262.46 L46.12,262.25 L46.32,262.00 L46.53,261.73 L46.75,261.45 L46.97,261.16 L47.22,260.85 L47.47,260.47 L47.74,260.04 L48.01,259.59 L48.29,259.12 L48.56,258.64 L48.83,258.18 L49.10,257.75 L49.36,257.35 L49.60,257.02 L49.81,256.73 L49.97,256.47 L50.10,256.24 L50.22,256.03 L50.35,255.84 L50.50,255.67 L50.70,255.52 L50.95,255.38 L51.28,255.25 L51.70,255.14 L52.17,255.04 L52.65,254.96 L53.16,254.91 L53.72,254.87 L54.34,254.84 L55.04,254.82 L55.85,254.81 L56.79,254.80 L57.86,254.78 L59.10,254.76 L60.62,254.73 L62.47,254.71 L64.57,254.68 L66.81,254.66 L69.10,254.64 L71.36,254.62 L73.49,254.61 L75.40,254.59 L76.99,254.58 L78.18,254.57" stroke="#bdbdc4" stroke-width="1.0" fill="none" stroke-linejoin="round" stroke-linecap="round"/>
<path d="M37.15,255.14 L37.50,255.14 L37.92,255.14 L38.41,255.14 L38.96,255.14 L39.57,255.14 L40.23,255.14 L40.94,255.14 L41.69,255.14 L42.48,255.14 L43.30,255.14 L44.17,255.13 L45.12,255.13 L46.13,255.12 L47.18,255.12 L48.27,255.11 L49.38,255.11 L50.51,255.11 L51.62,255.11 L52.73,255.12 L53.80,255.14 L54.84,255.16 L55.86,255.18 L56.87,255.21 L57.88,255.24 L58.90,255.28 L59.93,255.32 L60.98,255.36 L62.07,255.41 L63.21,255.46 L64.40,255.51 L65.71,255.58 L67.17,255.65 L68.73,255.74 L70.34,255.82 L71.95,255.91 L73.51,256.00 L74.96,256.08 L76.26,256.16 L77.35,256.22 L78.18,256.27" stroke="#f0b4bc" stroke-width="0.9" fill="none" stroke-linejoin="round" stroke-linecap="round"/>
<path d="M63.34,254.76 L63.71,254.75 L64.17,254.73 L64.71,254.71 L65.32,254.69 L65.99,254.67 L66.70,254.64 L67.44,254.62 L68.19,254.60 L68.95,254.58 L69.70,254.57 L70.50,254.56 L71.40,254.56 L72.36,254.56 L73.35,254.56 L74.34,254.56 L75.30,254.56 L76.19,254.57 L76.99,254.57 L77.67,254.57 L78.18,254.57" stroke="#c4c4dc" stroke-width="0.9" fill="none" stroke-linejoin="round" stroke-linecap="round"/>
<text x="71.0" y="253.3" font-size="5.6" text-anchor="start" fill="#1c1c1c">WT</text>
<text x="61.2" y="267.4" font-size="5.3" text-anchor="start" font-style="italic" fill="#1c1c1c">Ask1-/-</text>
<line x1="68.8" y1="250.6" x2="66.32582568812066" y2="252.77962975094133" stroke="#111" stroke-width="1.0"/>
<path d="M64.60,254.30 L65.49,251.38 L67.61,253.78 Z" fill="#111"/>
<line x1="60.6" y1="261.9" x2="58.5323962113824" y2="258.6419576664207" stroke="#111" stroke-width="1.0"/>
<path d="M57.30,256.70 L60.04,258.04 L57.34,259.75 Z" fill="#111"/>
<text x="163.15" y="244.2" font-size="8.6" text-anchor="middle" fill="#1c1c1c" textLength="76.3" lengthAdjust="spacingAndGlyphs">0.03U/mL Thrombin</text>
<line x1="125.0" y1="245.6" x2="201.3" y2="245.6" stroke="#111" stroke-width="1.0"/>
<line x1="132.5" y1="251.5" x2="132.5" y2="299.0" stroke="#0a0a0a" stroke-width="1.0"/>
<line x1="132.0" y1="298.5" x2="192.8" y2="298.5" stroke="#0a0a0a" stroke-width="1.0"/>
<line x1="129.29999999999998" y1="254.0" x2="132.2" y2="254.0" stroke="#111" stroke-width="0.9"/>
<text x="128.6" y="256.25" font-size="6.4" text-anchor="end" fill="#1c1c1c">-20</text>
<line x1="129.29999999999998" y1="261.2833333333333" x2="132.2" y2="261.2833333333333" stroke="#111" stroke-width="0.9"/>
<text x="128.6" y="263.5333333333333" font-size="6.4" text-anchor="end" fill="#1c1c1c">0</text>
<line x1="129.29999999999998" y1="268.56666666666666" x2="132.2" y2="268.56666666666666" stroke="#111" stroke-width="0.9"/>
<text x="128.6" y="270.81666666666666" font-size="6.4" text-anchor="end" fill="#1c1c1c">20</text>
<line x1="129.29999999999998" y1="275.84999999999997" x2="132.2" y2="275.84999999999997" stroke="#111" stroke-width="0.9"/>
<text x="128.6" y="278.09999999999997" font-size="6.4" text-anchor="end" fill="#1c1c1c">40</text>
<line x1="129.29999999999998" y1="283.1333333333333" x2="132.2" y2="283.1333333333333" stroke="#111" stroke-width="0.9"/>
<text x="128.6" y="285.3833333333333" font-size="6.4" text-anchor="end" fill="#1c1c1c">60</text>
<line x1="129.29999999999998" y1="290.41666666666663" x2="132.2" y2="290.41666666666663" stroke="#111" stroke-width="0.9"/>
<text x="128.6" y="292.66666666666663" font-size="6.4" text-anchor="end" fill="#1c1c1c">80</text>
<line x1="129.29999999999998" y1="297.7" x2="132.2" y2="297.7" stroke="#111" stroke-width="0.9"/>
<text x="128.6" y="299.95" font-size="6.4" text-anchor="end" fill="#1c1c1c">100</text>
<line x1="132.5" y1="298.0" x2="132.5" y2="300.3" stroke="#111" stroke-width="0.9"/>
<text x="132.5" y="307.5" font-size="6.4" text-anchor="middle" fill="#1c1c1c">0</text>
<line x1="143.1" y1="298.0" x2="143.1" y2="300.3" stroke="#111" stroke-width="0.9"/>
<text x="143.1" y="307.5" font-size="6.4" text-anchor="middle" fill="#1c1c1c">1</text>
<line x1="153.8" y1="298.0" x2="153.8" y2="300.3" stroke="#111" stroke-width="0.9"/>
<text x="153.8" y="307.5" font-size="6.4" text-anchor="middle" fill="#1c1c1c">2</text>
<line x1="164.4" y1="298.0" x2="164.4" y2="300.3" stroke="#111" stroke-width="0.9"/>
<text x="164.4" y="307.5" font-size="6.4" text-anchor="middle" fill="#1c1c1c">3</text>
<line x1="175.0" y1="298.0" x2="175.0" y2="300.3" stroke="#111" stroke-width="0.9"/>
<text x="175.0" y="307.5" font-size="6.4" text-anchor="middle" fill="#1c1c1c">4</text>
<line x1="185.6" y1="298.0" x2="185.6" y2="300.3" stroke="#111" stroke-width="0.9"/>
<text x="185.6" y="307.5" font-size="6.4" text-anchor="middle" fill="#1c1c1c">5</text>
<text x="113.8" y="274.25" font-size="8.2" text-anchor="middle" fill="#1c1c1c" transform="rotate(-90 113.8 274.25)" textLength="47" lengthAdjust="spacingAndGlyphs">Transmittance</text>
<text x="159.8" y="318.4" font-size="9.2" text-anchor="middle" fill="#1c1c1c">min</text>
<path d="M132.50,261.28 L132.77,261.30 L133.13,261.35 L133.57,261.42 L134.05,261.49 L134.57,261.56 L135.08,261.60 L135.58,261.60 L136.04,261.56 L136.43,261.46 L136.74,261.28 L136.95,261.01 L137.10,260.62 L137.19,260.17 L137.24,259.66 L137.27,259.12 L137.29,258.58 L137.32,258.07 L137.36,257.60 L137.45,257.21 L137.59,256.91 L137.76,256.66 L137.95,256.39 L138.15,256.12 L138.36,255.88 L138.59,255.71 L138.85,255.61 L139.13,255.62 L139.43,255.77 L139.77,256.07 L140.13,256.55 L140.54,257.27 L141.00,258.25 L141.50,259.42 L142.03,260.73 L142.58,262.13 L143.13,263.56 L143.69,264.97 L144.23,266.31 L144.75,267.53 L145.24,268.57 L145.69,269.46 L146.12,270.28 L146.52,271.04 L146.91,271.74 L147.30,272.39 L147.70,273.00 L148.11,273.57 L148.54,274.11 L149.01,274.62 L149.52,275.12 L150.06,275.60 L150.63,276.06 L151.22,276.48 L151.83,276.88 L152.46,277.24 L153.11,277.56 L153.78,277.84 L154.47,278.08 L155.19,278.26 L155.92,278.40 L156.68,278.48 L157.48,278.50 L158.31,278.46 L159.16,278.38 L160.03,278.26 L160.91,278.11 L161.79,277.93 L162.67,277.73 L163.54,277.52 L164.40,277.31 L165.27,277.06 L166.18,276.77 L167.11,276.45 L168.05,276.10 L168.97,275.74 L169.87,275.37 L170.73,275.00 L171.52,274.65 L172.25,274.32 L172.88,274.03 L173.43,273.76 L173.91,273.49 L174.32,273.22 L174.69,272.97 L175.00,272.73 L175.27,272.51 L175.51,272.30 L175.71,272.12 L175.89,271.97 L176.06,271.84" stroke="#acacdc" stroke-width="1.0" fill="none" stroke-linejoin="round" stroke-linecap="round"/>
<path d="M132.50,261.28 L132.77,261.30 L133.13,261.35 L133.57,261.42 L134.05,261.49 L134.57,261.56 L135.08,261.60 L135.58,261.60 L136.04,261.56 L136.43,261.46 L136.74,261.28 L136.95,261.01 L137.10,260.62 L137.19,260.17 L137.24,259.66 L137.27,259.12 L137.29,258.58 L137.32,258.07 L137.36,257.60 L137.45,257.21 L137.59,256.91 L137.76,256.71 L137.95,256.56 L138.15,256.46 L138.36,256.41 L138.59,256.39 L138.85,256.40 L139.13,256.43 L139.43,256.46 L139.77,256.51 L140.13,256.55 L140.52,256.60 L140.93,256.67 L141.37,256.77 L141.82,256.88 L142.31,257.00 L142.83,257.13 L143.37,257.27 L143.96,257.40 L144.58,257.53 L145.24,257.64 L145.97,257.75 L146.77,257.87 L147.62,257.98 L148.52,258.10 L149.44,258.21 L150.37,258.32 L151.28,258.43 L152.17,258.54 L153.02,258.64 L153.80,258.73 L154.52,258.83 L155.18,258.92 L155.80,259.01 L156.40,259.10 L156.99,259.19 L157.57,259.27 L158.17,259.34 L158.79,259.39 L159.45,259.44 L160.16,259.46 L160.93,259.47 L161.74,259.45 L162.58,259.42 L163.45,259.38 L164.33,259.33 L165.22,259.27 L166.11,259.22 L166.98,259.17 L167.83,259.12 L168.64,259.10 L169.46,259.08 L170.31,259.08 L171.18,259.07 L172.04,259.07 L172.88,259.08 L173.68,259.08 L174.41,259.09 L175.07,259.09 L175.62,259.10 L176.06,259.10" stroke="#e2b2aa" stroke-width="1.0" fill="none" stroke-linejoin="round" stroke-linecap="round"/>
<text x="156.5" y="269.8" font-size="6.2" text-anchor="start" fill="#1c1c1c">WT</text>
<text x="167.6" y="256.4" font-size="5.4" text-anchor="start" font-style="italic" fill="#1c1c1c">Ask1-/-</text>
<line x1="156.0" y1="268.2" x2="148.89792043357116" y2="268.502216151763" stroke="#111" stroke-width="1.0"/>
<path d="M146.60,268.60 L149.13,266.89 L149.27,270.09 Z" fill="#111"/>
<line x1="166.8" y1="255.1" x2="161.0847212829091" y2="256.98097780562483" stroke="#111" stroke-width="1.0"/>
<path d="M158.90,257.70 L160.87,255.37 L161.87,258.41 Z" fill="#111"/>
<text x="266.25" y="244.2" font-size="8.6" text-anchor="middle" fill="#1c1c1c" textLength="76.5" lengthAdjust="spacingAndGlyphs">0.05U/mL Thrombin</text>
<line x1="228.0" y1="245.6" x2="304.5" y2="245.6" stroke="#111" stroke-width="1.0"/>
<line x1="233.5" y1="252.3" x2="233.5" y2="297.0" stroke="#0a0a0a" stroke-width="1.0"/>
<line x1="233.0" y1="296.5" x2="298.5" y2="296.5" stroke="#0a0a0a" stroke-width="1.0"/>
<line x1="230.9" y1="254.9" x2="233.8" y2="254.9" stroke="#111" stroke-width="0.9"/>
<text x="230.20000000000002" y="257.15" font-size="6.4" text-anchor="end" fill="#1c1c1c">-20</text>
<line x1="230.9" y1="261.68333333333334" x2="233.8" y2="261.68333333333334" stroke="#111" stroke-width="0.9"/>
<text x="230.20000000000002" y="263.93333333333334" font-size="6.4" text-anchor="end" fill="#1c1c1c">0</text>
<line x1="230.9" y1="268.4666666666667" x2="233.8" y2="268.4666666666667" stroke="#111" stroke-width="0.9"/>
<text x="230.20000000000002" y="270.7166666666667" font-size="6.4" text-anchor="end" fill="#1c1c1c">20</text>
<line x1="230.9" y1="275.25" x2="233.8" y2="275.25" stroke="#111" stroke-width="0.9"/>
<text x="230.20000000000002" y="277.5" font-size="6.4" text-anchor="end" fill="#1c1c1c">40</text>
<line x1="230.9" y1="282.03333333333336" x2="233.8" y2="282.03333333333336" stroke="#111" stroke-width="0.9"/>
<text x="230.20000000000002" y="284.28333333333336" font-size="6.4" text-anchor="end" fill="#1c1c1c">60</text>
<line x1="230.9" y1="288.81666666666666" x2="233.8" y2="288.81666666666666" stroke="#111" stroke-width="0.9"/>
<text x="230.20000000000002" y="291.06666666666666" font-size="6.4" text-anchor="end" fill="#1c1c1c">80</text>
<line x1="230.9" y1="295.6" x2="233.8" y2="295.6" stroke="#111" stroke-width="0.9"/>
<text x="230.20000000000002" y="297.85" font-size="6.4" text-anchor="end" fill="#1c1c1c">100</text>
<line x1="233.8" y1="296.8" x2="233.8" y2="299.1" stroke="#111" stroke-width="0.9"/>
<text x="233.8" y="306.3" font-size="6.4" text-anchor="middle" fill="#1c1c1c">0</text>
<line x1="246.6" y1="296.8" x2="246.6" y2="299.1" stroke="#111" stroke-width="0.9"/>
<text x="246.6" y="306.3" font-size="6.4" text-anchor="middle" fill="#1c1c1c">1</text>
<line x1="259.2" y1="296.8" x2="259.2" y2="299.1" stroke="#111" stroke-width="0.9"/>
<text x="259.2" y="306.3" font-size="6.4" text-anchor="middle" fill="#1c1c1c">2</text>
<line x1="272.0" y1="296.8" x2="272.0" y2="299.1" stroke="#111" stroke-width="0.9"/>
<text x="272.0" y="306.3" font-size="6.4" text-anchor="middle" fill="#1c1c1c">3</text>
<line x1="284.6" y1="296.8" x2="284.6" y2="299.1" stroke="#111" stroke-width="0.9"/>
<text x="284.6" y="306.3" font-size="6.4" text-anchor="middle" fill="#1c1c1c">4</text>
<line x1="293.5" y1="296.8" x2="293.5" y2="299.1" stroke="#111" stroke-width="0.9"/>
<text x="293.5" y="306.3" font-size="6.4" text-anchor="middle" fill="#1c1c1c">5</text>
<text x="215.2" y="274.05" font-size="8.2" text-anchor="middle" fill="#1c1c1c" transform="rotate(-90 215.2 274.05)" textLength="47" lengthAdjust="spacingAndGlyphs">Transmittance</text>
<text x="262.0" y="317.2" font-size="9.2" text-anchor="middle" fill="#1c1c1c">min</text>
<path d="M237.00,259.99 L237.21,259.81 L237.48,259.53 L237.80,259.19 L238.15,258.82 L238.54,258.44 L238.94,258.09 L239.36,257.80 L239.78,257.61 L240.19,257.53 L240.58,257.61 L240.98,257.86 L241.39,258.23 L241.80,258.71 L242.23,259.28 L242.66,259.92 L243.08,260.61 L243.50,261.32 L243.91,262.03 L244.31,262.72 L244.68,263.38 L245.03,264.01 L245.34,264.64 L245.63,265.29 L245.92,265.94 L246.20,266.60 L246.48,267.28 L246.78,267.97 L247.10,268.68 L247.46,269.41 L247.86,270.16 L248.30,270.96 L248.77,271.81 L249.26,272.71 L249.78,273.63 L250.32,274.55 L250.87,275.46 L251.43,276.34 L252.00,277.18 L252.58,277.95 L253.15,278.64 L253.70,279.25 L254.22,279.78 L254.72,280.26 L255.23,280.70 L255.76,281.10 L256.32,281.48 L256.94,281.86 L257.64,282.23 L258.43,282.63 L259.33,283.05 L260.36,283.50 L261.51,283.97 L262.76,284.45 L264.09,284.93 L265.48,285.40 L266.89,285.87 L268.31,286.31 L269.71,286.73 L271.08,287.12 L272.38,287.46 L273.63,287.76 L274.86,288.03 L276.07,288.27 L277.27,288.48 L278.47,288.67 L279.67,288.84 L280.88,289.01 L282.10,289.17 L283.34,289.33 L284.60,289.50 L285.95,289.66 L287.41,289.83 L288.94,289.99 L290.50,290.15 L292.04,290.30 L293.52,290.44 L294.89,290.57 L296.12,290.68 L297.15,290.77 L297.95,290.85" stroke="#d2d2d2" stroke-width="1.2" fill="none" stroke-linejoin="round" stroke-linecap="round"/>
<path d="M237.00,259.99 L237.21,259.79 L237.49,259.48 L237.82,259.09 L238.18,258.66 L238.58,258.23 L238.99,257.85 L239.41,257.55 L239.82,257.39 L240.21,257.39 L240.58,257.61 L240.93,258.05 L241.25,258.67 L241.57,259.45 L241.88,260.35 L242.19,261.34 L242.52,262.41 L242.86,263.51 L243.22,264.62 L243.61,265.72 L244.04,266.77 L244.51,267.83 L245.01,268.96 L245.54,270.14 L246.09,271.35 L246.65,272.56 L247.23,273.75 L247.81,274.92 L248.38,276.02 L248.95,277.04 L249.50,277.96 L250.04,278.79 L250.59,279.54 L251.15,280.23 L251.70,280.87 L252.25,281.46 L252.79,282.02 L253.32,282.55 L253.83,283.06 L254.32,283.56 L254.79,284.07 L255.22,284.56 L255.60,285.03 L255.96,285.47 L256.29,285.89 L256.62,286.29 L256.95,286.68 L257.30,287.06 L257.68,287.42 L258.10,287.78 L258.57,288.14 L259.09,288.49 L259.64,288.84 L260.23,289.17 L260.83,289.50 L261.47,289.81 L262.12,290.12 L262.78,290.41 L263.46,290.68 L264.14,290.95 L264.83,291.19 L265.51,291.42 L266.18,291.62 L266.85,291.81 L267.53,291.98 L268.23,292.14 L268.96,292.30 L269.73,292.45 L270.55,292.59 L271.43,292.74 L272.38,292.89 L273.41,293.04 L274.51,293.19 L275.67,293.34 L276.88,293.49 L278.13,293.63 L279.41,293.77 L280.70,293.90 L282.01,294.02 L283.31,294.14 L284.60,294.24 L285.95,294.34 L287.41,294.43 L288.94,294.52 L290.50,294.60 L292.04,294.67 L293.52,294.73 L294.89,294.79 L296.12,294.84 L297.15,294.88 L297.95,294.92" stroke="#d6d6d6" stroke-width="1.2" fill="none" stroke-linejoin="round" stroke-linecap="round"/>
<text x="240.3" y="289.8" font-size="6.0" text-anchor="start" fill="#1c1c1c">WT</text>
<text x="269.8" y="284.5" font-size="5.6" text-anchor="start" font-style="italic" fill="#1c1c1c">Ask1-/-</text>
<line x1="248.2" y1="288.0" x2="253.80000000000004" y2="288.0" stroke="#111" stroke-width="1.0"/>
<path d="M256.10,288.00 L253.50,289.60 L253.50,286.40 Z" fill="#111"/>
<line x1="267.7" y1="282.6" x2="260.6" y2="282.6" stroke="#111" stroke-width="1.0"/>
<path d="M258.30,282.60 L260.90,281.00 L260.90,284.20 Z" fill="#111"/>
<text x="62.65" y="332.6" font-size="8.6" text-anchor="middle" fill="#1c1c1c" textLength="57.7" lengthAdjust="spacingAndGlyphs">0.2μM U46619</text>
<line x1="33.8" y1="334.0" x2="91.5" y2="334.0" stroke="#111" stroke-width="1.0"/>
<line x1="31.5" y1="338.8" x2="31.5" y2="386.0" stroke="#0a0a0a" stroke-width="1.0"/>
<line x1="31.0" y1="385.5" x2="91.9" y2="385.5" stroke="#0a0a0a" stroke-width="1.0"/>
<line x1="28.900000000000002" y1="342.4" x2="31.8" y2="342.4" stroke="#111" stroke-width="0.9"/>
<text x="28.2" y="344.65" font-size="6.4" text-anchor="end" fill="#1c1c1c">-20</text>
<line x1="28.900000000000002" y1="349.5" x2="31.8" y2="349.5" stroke="#111" stroke-width="0.9"/>
<text x="28.2" y="351.75" font-size="6.4" text-anchor="end" fill="#1c1c1c">0</text>
<line x1="28.900000000000002" y1="356.59999999999997" x2="31.8" y2="356.59999999999997" stroke="#111" stroke-width="0.9"/>
<text x="28.2" y="358.84999999999997" font-size="6.4" text-anchor="end" fill="#1c1c1c">20</text>
<line x1="28.900000000000002" y1="363.7" x2="31.8" y2="363.7" stroke="#111" stroke-width="0.9"/>
<text x="28.2" y="365.95" font-size="6.4" text-anchor="end" fill="#1c1c1c">40</text>
<line x1="28.900000000000002" y1="370.8" x2="31.8" y2="370.8" stroke="#111" stroke-width="0.9"/>
<text x="28.2" y="373.05" font-size="6.4" text-anchor="end" fill="#1c1c1c">60</text>
<line x1="28.900000000000002" y1="377.9" x2="31.8" y2="377.9" stroke="#111" stroke-width="0.9"/>
<text x="28.2" y="380.15" font-size="6.4" text-anchor="end" fill="#1c1c1c">80</text>
<line x1="28.900000000000002" y1="385.0" x2="31.8" y2="385.0" stroke="#111" stroke-width="0.9"/>
<text x="28.2" y="387.25" font-size="6.4" text-anchor="end" fill="#1c1c1c">100</text>
<line x1="31.9" y1="385.3" x2="31.9" y2="387.6" stroke="#111" stroke-width="0.9"/>
<text x="31.9" y="394.8" font-size="6.4" text-anchor="middle" fill="#1c1c1c">0</text>
<line x1="41.9" y1="385.3" x2="41.9" y2="387.6" stroke="#111" stroke-width="0.9"/>
<text x="41.9" y="394.8" font-size="6.4" text-anchor="middle" fill="#1c1c1c">1</text>
<line x1="51.9" y1="385.3" x2="51.9" y2="387.6" stroke="#111" stroke-width="0.9"/>
<text x="51.9" y="394.8" font-size="6.4" text-anchor="middle" fill="#1c1c1c">2</text>
<line x1="61.9" y1="385.3" x2="61.9" y2="387.6" stroke="#111" stroke-width="0.9"/>
<text x="61.9" y="394.8" font-size="6.4" text-anchor="middle" fill="#1c1c1c">3</text>
<line x1="72.4" y1="385.3" x2="72.4" y2="387.6" stroke="#111" stroke-width="0.9"/>
<text x="72.4" y="394.8" font-size="6.4" text-anchor="middle" fill="#1c1c1c">4</text>
<line x1="82.7" y1="385.3" x2="82.7" y2="387.6" stroke="#111" stroke-width="0.9"/>
<text x="82.7" y="394.8" font-size="6.4" text-anchor="middle" fill="#1c1c1c">5</text>
<text x="13.8" y="361.55" font-size="8.2" text-anchor="middle" fill="#1c1c1c" transform="rotate(-90 13.8 361.55)" textLength="47" lengthAdjust="spacingAndGlyphs">Transmittance</text>
<text x="61.9" y="405.7" font-size="9.2" text-anchor="middle" fill="#1c1c1c">min</text>
<path d="M32.40,349.50 L32.55,349.51 L32.76,349.55 L33.00,349.59 L33.27,349.64 L33.56,349.68 L33.85,349.70 L34.14,349.71 L34.42,349.68 L34.68,349.62 L34.90,349.50 L35.08,349.31 L35.24,349.04 L35.38,348.71 L35.50,348.35 L35.62,347.97 L35.74,347.60 L35.87,347.26 L36.02,346.98 L36.19,346.77 L36.40,346.66 L36.59,346.66 L36.73,346.76 L36.85,346.93 L36.98,347.16 L37.14,347.41 L37.36,347.68 L37.67,347.94 L38.09,348.17 L38.66,348.34 L39.40,348.44 L40.34,348.46 L41.45,348.44 L42.72,348.38 L44.11,348.30 L45.58,348.19 L47.10,348.08 L48.65,347.96 L50.19,347.86 L51.68,347.78 L53.10,347.72 L54.49,347.69 L55.91,347.65 L57.36,347.62 L58.80,347.59 L60.24,347.57 L61.65,347.56 L63.03,347.57 L64.37,347.60 L65.64,347.65 L66.84,347.72 L67.92,347.83 L68.89,347.97 L69.77,348.13 L70.60,348.31 L71.41,348.50 L72.23,348.70 L73.08,348.91 L74.01,349.12 L75.04,349.31 L76.21,349.50 L77.59,349.69 L79.18,349.88 L80.91,350.09 L82.73,350.30 L84.57,350.50 L86.37,350.69 L88.05,350.87 L89.55,351.03 L90.81,351.17 L91.76,351.27" stroke="#dccacf" stroke-width="1.0" fill="none" stroke-linejoin="round" stroke-linecap="round"/>
<path d="M32.40,349.50 L32.55,349.51 L32.76,349.55 L33.00,349.59 L33.27,349.64 L33.56,349.68 L33.85,349.70 L34.14,349.71 L34.42,349.68 L34.68,349.62 L34.90,349.50 L35.09,349.29 L35.26,348.95 L35.42,348.54 L35.57,348.09 L35.71,347.64 L35.85,347.22 L35.98,346.87 L36.12,346.64 L36.25,346.55 L36.40,346.66 L36.54,346.97 L36.67,347.46 L36.80,348.08 L36.92,348.82 L37.05,349.63 L37.18,350.49 L37.33,351.37 L37.50,352.23 L37.69,353.03 L37.90,353.76 L38.13,354.43 L38.35,355.09 L38.57,355.74 L38.81,356.38 L39.07,357.02 L39.37,357.65 L39.70,358.28 L40.07,358.91 L40.50,359.53 L41.00,360.15 L41.57,360.77 L42.19,361.39 L42.88,362.01 L43.61,362.62 L44.38,363.23 L45.18,363.84 L46.00,364.44 L46.83,365.03 L47.67,365.61 L48.50,366.19 L49.34,366.75 L50.20,367.32 L51.08,367.89 L51.98,368.45 L52.89,369.00 L53.80,369.54 L54.73,370.07 L55.65,370.57 L56.58,371.05 L57.50,371.51 L58.41,371.94 L59.29,372.33 L60.17,372.69 L61.05,373.04 L61.94,373.37 L62.85,373.70 L63.79,374.02 L64.76,374.36 L65.77,374.70 L66.84,375.06 L67.96,375.44 L69.15,375.85 L70.37,376.26 L71.64,376.68 L72.93,377.10 L74.24,377.51 L75.55,377.91 L76.85,378.29 L78.14,378.64 L79.40,378.96 L80.70,379.26 L82.09,379.54 L83.52,379.80 L84.96,380.05 L86.37,380.27 L87.72,380.48 L88.97,380.67 L90.09,380.83 L91.03,380.98 L91.76,381.10" stroke="#8282bc" stroke-width="1.0" fill="none" stroke-linejoin="round" stroke-linecap="round"/>
<text x="70.4" y="375.3" font-size="6.0" text-anchor="start" fill="#1c1c1c">WT</text>
<text x="70.4" y="358.3" font-size="5.6" text-anchor="start" font-style="italic" fill="#1c1c1c">Ask1-/-</text>
<line x1="69.6" y1="374.2" x2="65.76349214012373" y2="374.8918292862072" stroke="#111" stroke-width="1.0"/>
<path d="M63.50,375.30 L65.77,373.26 L66.34,376.41 Z" fill="#111"/>
<line x1="75.8" y1="353.2" x2="73.04960512537257" y2="351.1670994404928" stroke="#111" stroke-width="1.0"/>
<path d="M71.20,349.80 L74.24,350.06 L72.34,352.63 Z" fill="#111"/>
<text x="164.2" y="332.6" font-size="8.6" text-anchor="middle" fill="#1c1c1c" textLength="50.0" lengthAdjust="spacingAndGlyphs">1μM U46619</text>
<line x1="139.2" y1="334.0" x2="189.2" y2="334.0" stroke="#111" stroke-width="1.0"/>
<line x1="132.5" y1="338.3" x2="132.5" y2="385.0" stroke="#0a0a0a" stroke-width="1.0"/>
<line x1="132.0" y1="384.5" x2="195.1" y2="384.5" stroke="#0a0a0a" stroke-width="1.0"/>
<line x1="129.7" y1="341.2" x2="132.6" y2="341.2" stroke="#111" stroke-width="0.9"/>
<text x="129.0" y="343.45" font-size="6.4" text-anchor="end" fill="#1c1c1c">-20</text>
<line x1="129.7" y1="348.46666666666664" x2="132.6" y2="348.46666666666664" stroke="#111" stroke-width="0.9"/>
<text x="129.0" y="350.71666666666664" font-size="6.4" text-anchor="end" fill="#1c1c1c">0</text>
<line x1="129.7" y1="355.73333333333335" x2="132.6" y2="355.73333333333335" stroke="#111" stroke-width="0.9"/>
<text x="129.0" y="357.98333333333335" font-size="6.4" text-anchor="end" fill="#1c1c1c">20</text>
<line x1="129.7" y1="363.0" x2="132.6" y2="363.0" stroke="#111" stroke-width="0.9"/>
<text x="129.0" y="365.25" font-size="6.4" text-anchor="end" fill="#1c1c1c">40</text>
<line x1="129.7" y1="370.26666666666665" x2="132.6" y2="370.26666666666665" stroke="#111" stroke-width="0.9"/>
<text x="129.0" y="372.51666666666665" font-size="6.4" text-anchor="end" fill="#1c1c1c">60</text>
<line x1="129.7" y1="377.53333333333336" x2="132.6" y2="377.53333333333336" stroke="#111" stroke-width="0.9"/>
<text x="129.0" y="379.78333333333336" font-size="6.4" text-anchor="end" fill="#1c1c1c">80</text>
<line x1="129.7" y1="384.8" x2="132.6" y2="384.8" stroke="#111" stroke-width="0.9"/>
<text x="129.0" y="387.05" font-size="6.4" text-anchor="end" fill="#1c1c1c">100</text>
<line x1="132.6" y1="384.9" x2="132.6" y2="387.2" stroke="#111" stroke-width="0.9"/>
<text x="132.6" y="394.4" font-size="6.4" text-anchor="middle" fill="#1c1c1c">0</text>
<line x1="143.1" y1="384.9" x2="143.1" y2="387.2" stroke="#111" stroke-width="0.9"/>
<text x="143.1" y="394.4" font-size="6.4" text-anchor="middle" fill="#1c1c1c">1</text>
<line x1="153.7" y1="384.9" x2="153.7" y2="387.2" stroke="#111" stroke-width="0.9"/>
<text x="153.7" y="394.4" font-size="6.4" text-anchor="middle" fill="#1c1c1c">2</text>
<line x1="164.3" y1="384.9" x2="164.3" y2="387.2" stroke="#111" stroke-width="0.9"/>
<text x="164.3" y="394.4" font-size="6.4" text-anchor="middle" fill="#1c1c1c">3</text>
<line x1="175.1" y1="384.9" x2="175.1" y2="387.2" stroke="#111" stroke-width="0.9"/>
<text x="175.1" y="394.4" font-size="6.4" text-anchor="middle" fill="#1c1c1c">4</text>
<line x1="185.3" y1="384.9" x2="185.3" y2="387.2" stroke="#111" stroke-width="0.9"/>
<text x="185.3" y="394.4" font-size="6.4" text-anchor="middle" fill="#1c1c1c">5</text>
<text x="113.8" y="361.1" font-size="8.2" text-anchor="middle" fill="#1c1c1c" transform="rotate(-90 113.8 361.1)" textLength="47" lengthAdjust="spacingAndGlyphs">Transmittance</text>
<text x="164.0" y="405.29999999999995" font-size="9.2" text-anchor="middle" fill="#1c1c1c">min</text>
<path d="M133.65,349.56 L133.86,349.58 L134.13,349.63 L134.45,349.69 L134.81,349.77 L135.19,349.83 L135.59,349.87 L135.98,349.88 L136.36,349.84 L136.71,349.73 L137.01,349.56 L137.27,349.25 L137.49,348.80 L137.69,348.24 L137.87,347.62 L138.05,346.99 L138.23,346.39 L138.43,345.87 L138.65,345.46 L138.91,345.23 L139.22,345.20 L139.53,345.41 L139.83,345.84 L140.13,346.45 L140.45,347.17 L140.80,347.97 L141.20,348.79 L141.66,349.59 L142.21,350.32 L142.86,350.93 L143.63,351.37 L144.51,351.67 L145.50,351.87 L146.58,351.99 L147.74,352.06 L148.97,352.08 L150.26,352.07 L151.60,352.05 L152.98,352.04 L154.39,352.05 L155.82,352.10 L157.27,352.17 L158.75,352.23 L160.27,352.30 L161.83,352.36 L163.43,352.42 L165.09,352.48 L166.80,352.56 L168.56,352.63 L170.39,352.72 L172.29,352.83 L174.38,352.95 L176.72,353.09 L179.23,353.26 L181.82,353.43 L184.42,353.60 L186.93,353.77 L189.27,353.93 L191.37,354.07 L193.13,354.19 L194.48,354.28" stroke="#e6aaa6" stroke-width="1.0" fill="none" stroke-linejoin="round" stroke-linecap="round"/>
<path d="M133.65,349.56 L133.86,349.58 L134.13,349.63 L134.45,349.69 L134.81,349.77 L135.19,349.83 L135.59,349.87 L135.98,349.88 L136.36,349.84 L136.71,349.73 L137.01,349.56 L137.26,349.23 L137.48,348.73 L137.66,348.11 L137.83,347.43 L138.00,346.74 L138.18,346.10 L138.37,345.57 L138.60,345.21 L138.88,345.06 L139.22,345.20 L139.61,345.64 L140.06,346.36 L140.55,347.29 L141.07,348.39 L141.62,349.60 L142.18,350.86 L142.74,352.13 L143.30,353.34 L143.85,354.43 L144.37,355.37 L144.86,356.17 L145.33,356.91 L145.78,357.60 L146.22,358.25 L146.68,358.87 L147.14,359.47 L147.63,360.06 L148.16,360.66 L148.73,361.27 L149.35,361.91 L150.04,362.57 L150.78,363.24 L151.57,363.91 L152.39,364.58 L153.23,365.25 L154.10,365.91 L154.97,366.57 L155.83,367.21 L156.68,367.84 L157.52,368.45 L158.33,369.05 L159.13,369.63 L159.92,370.21 L160.71,370.78 L161.51,371.33 L162.31,371.88 L163.13,372.41 L163.96,372.92 L164.82,373.42 L165.70,373.90 L166.61,374.36 L167.54,374.81 L168.48,375.24 L169.43,375.66 L170.40,376.06 L171.39,376.45 L172.40,376.82 L173.42,377.19 L174.45,377.55 L175.51,377.90 L176.60,378.24 L177.75,378.57 L178.94,378.88 L180.15,379.19 L181.36,379.49 L182.56,379.77 L183.74,380.05 L184.87,380.31 L185.94,380.56 L186.93,380.80 L187.88,381.04 L188.81,381.27 L189.72,381.49 L190.59,381.70 L191.42,381.89 L192.19,382.08 L192.89,382.24 L193.52,382.39 L194.05,382.52 L194.48,382.62" stroke="#8080c4" stroke-width="1.0" fill="none" stroke-linejoin="round" stroke-linecap="round"/>
<text x="175.8" y="376.0" font-size="6.0" text-anchor="start" fill="#1c1c1c">WT</text>
<text x="161.6" y="361.2" font-size="5.6" text-anchor="start" font-style="italic" fill="#1c1c1c">Ask1-/-</text>
<line x1="174.6" y1="374.2" x2="168.29999999999998" y2="374.2" stroke="#111" stroke-width="1.0"/>
<path d="M166.00,374.20 L168.60,372.60 L168.60,375.80 Z" fill="#111"/>
<line x1="159.4" y1="357.0" x2="155.4294117647059" y2="354.8823529411765" stroke="#111" stroke-width="1.0"/>
<path d="M153.40,353.80 L156.45,353.61 L154.94,356.44 Z" fill="#111"/>
<text x="267.3" y="332.6" font-size="8.6" text-anchor="middle" fill="#1c1c1c" textLength="50.0" lengthAdjust="spacingAndGlyphs">5μM U46619</text>
<line x1="242.3" y1="334.0" x2="292.3" y2="334.0" stroke="#111" stroke-width="1.0"/>
<line x1="233.5" y1="339.8" x2="233.5" y2="386.0" stroke="#0a0a0a" stroke-width="1.0"/>
<line x1="233.0" y1="385.5" x2="298.5" y2="385.5" stroke="#0a0a0a" stroke-width="1.0"/>
<line x1="230.79999999999998" y1="342.8" x2="233.7" y2="342.8" stroke="#111" stroke-width="0.9"/>
<text x="230.1" y="345.05" font-size="6.4" text-anchor="end" fill="#1c1c1c">-20</text>
<line x1="230.79999999999998" y1="349.6" x2="233.7" y2="349.6" stroke="#111" stroke-width="0.9"/>
<text x="230.1" y="351.85" font-size="6.4" text-anchor="end" fill="#1c1c1c">0</text>
<line x1="230.79999999999998" y1="356.40000000000003" x2="233.7" y2="356.40000000000003" stroke="#111" stroke-width="0.9"/>
<text x="230.1" y="358.65000000000003" font-size="6.4" text-anchor="end" fill="#1c1c1c">20</text>
<line x1="230.79999999999998" y1="363.20000000000005" x2="233.7" y2="363.20000000000005" stroke="#111" stroke-width="0.9"/>
<text x="230.1" y="365.45000000000005" font-size="6.4" text-anchor="end" fill="#1c1c1c">40</text>
<line x1="230.79999999999998" y1="370.0" x2="233.7" y2="370.0" stroke="#111" stroke-width="0.9"/>
<text x="230.1" y="372.25" font-size="6.4" text-anchor="end" fill="#1c1c1c">60</text>
<line x1="230.79999999999998" y1="376.8" x2="233.7" y2="376.8" stroke="#111" stroke-width="0.9"/>
<text x="230.1" y="379.05" font-size="6.4" text-anchor="end" fill="#1c1c1c">80</text>
<line x1="230.79999999999998" y1="383.6" x2="233.7" y2="383.6" stroke="#111" stroke-width="0.9"/>
<text x="230.1" y="385.85" font-size="6.4" text-anchor="end" fill="#1c1c1c">100</text>
<line x1="233.7" y1="385.3" x2="233.7" y2="387.6" stroke="#111" stroke-width="0.9"/>
<text x="233.7" y="394.8" font-size="6.4" text-anchor="middle" fill="#1c1c1c">0</text>
<line x1="246.5" y1="385.3" x2="246.5" y2="387.6" stroke="#111" stroke-width="0.9"/>
<text x="246.5" y="394.8" font-size="6.4" text-anchor="middle" fill="#1c1c1c">1</text>
<line x1="259.6" y1="385.3" x2="259.6" y2="387.6" stroke="#111" stroke-width="0.9"/>
<text x="259.6" y="394.8" font-size="6.4" text-anchor="middle" fill="#1c1c1c">2</text>
<line x1="272.4" y1="385.3" x2="272.4" y2="387.6" stroke="#111" stroke-width="0.9"/>
<text x="272.4" y="394.8" font-size="6.4" text-anchor="middle" fill="#1c1c1c">3</text>
<line x1="285.1" y1="385.3" x2="285.1" y2="387.6" stroke="#111" stroke-width="0.9"/>
<text x="285.1" y="394.8" font-size="6.4" text-anchor="middle" fill="#1c1c1c">4</text>
<line x1="298.0" y1="385.3" x2="298.0" y2="387.6" stroke="#111" stroke-width="0.9"/>
<text x="298.0" y="394.8" font-size="6.4" text-anchor="middle" fill="#1c1c1c">5</text>
<text x="215.2" y="362.05" font-size="8.2" text-anchor="middle" fill="#1c1c1c" transform="rotate(-90 215.2 362.05)" textLength="47" lengthAdjust="spacingAndGlyphs">Transmittance</text>
<text x="266.9" y="405.7" font-size="9.2" text-anchor="middle" fill="#1c1c1c">min</text>
<path d="M233.70,348.24 L233.87,348.05 L234.08,347.74 L234.32,347.36 L234.60,346.94 L234.90,346.52 L235.22,346.14 L235.56,345.85 L235.92,345.68 L236.28,345.67 L236.64,345.86 L237.01,346.28 L237.40,346.92 L237.79,347.72 L238.20,348.64 L238.63,349.64 L239.07,350.68 L239.52,351.72 L240.00,352.70 L240.49,353.60 L241.00,354.36 L241.51,355.01 L242.04,355.62 L242.57,356.18 L243.11,356.71 L243.68,357.21 L244.27,357.68 L244.89,358.14 L245.56,358.58 L246.27,359.02 L247.02,359.46 L247.84,359.90 L248.73,360.33 L249.66,360.75 L250.63,361.15 L251.64,361.54 L252.66,361.92 L253.69,362.27 L254.71,362.60 L255.73,362.91 L256.72,363.20 L257.66,363.45 L258.54,363.65 L259.40,363.83 L260.24,363.98 L261.11,364.11 L262.01,364.24 L262.98,364.38 L264.04,364.53 L265.21,364.70 L266.51,364.90 L267.99,365.14 L269.63,365.40 L271.40,365.67 L273.26,365.96 L275.18,366.26 L277.12,366.56 L279.04,366.85 L280.91,367.12 L282.69,367.38 L284.34,367.62 L285.93,367.84 L287.56,368.05 L289.17,368.26 L290.76,368.46 L292.28,368.64 L293.72,368.81 L295.04,368.97 L296.21,369.11 L297.21,369.22 L298.00,369.32" stroke="#bc6670" stroke-width="1.0" fill="none" stroke-linejoin="round" stroke-linecap="round"/>
<path d="M233.70,348.24 L233.87,348.04 L234.09,347.72 L234.35,347.30 L234.64,346.86 L234.96,346.41 L235.29,346.02 L235.63,345.72 L235.98,345.57 L236.32,345.60 L236.64,345.86 L236.97,346.37 L237.30,347.11 L237.64,348.02 L237.99,349.07 L238.34,350.22 L238.69,351.43 L239.05,352.65 L239.40,353.86 L239.75,355.01 L240.10,356.06 L240.43,357.04 L240.75,358.01 L241.05,358.97 L241.36,359.92 L241.66,360.86 L241.98,361.80 L242.33,362.75 L242.70,363.69 L243.10,364.63 L243.56,365.58 L244.05,366.55 L244.56,367.56 L245.10,368.59 L245.67,369.62 L246.26,370.64 L246.88,371.63 L247.53,372.59 L248.20,373.50 L248.91,374.34 L249.64,375.10 L250.41,375.78 L251.19,376.38 L252.01,376.93 L252.85,377.43 L253.73,377.88 L254.63,378.31 L255.56,378.71 L256.52,379.09 L257.52,379.47 L258.55,379.86 L259.56,380.24 L260.52,380.61 L261.45,380.96 L262.41,381.29 L263.42,381.60 L264.53,381.90 L265.76,382.18 L267.16,382.44 L268.77,382.69 L270.61,382.92 L272.85,383.13 L275.54,383.32 L278.56,383.50 L281.78,383.65 L285.06,383.79 L288.28,383.92 L291.31,384.03 L294.03,384.12 L296.30,384.21 L298.00,384.28" stroke="#5a5ab4" stroke-width="1.0" fill="none" stroke-linejoin="round" stroke-linecap="round"/>
<text x="236.6" y="378.9" font-size="6.0" text-anchor="start" fill="#1c1c1c">WT</text>
<text x="272.1" y="363.8" font-size="5.8" text-anchor="start" font-style="italic" fill="#1c1c1c">Ask1-/-</text>
<line x1="246.1" y1="377.0" x2="251.60000000000002" y2="377.0" stroke="#111" stroke-width="1.0"/>
<path d="M253.90,377.00 L251.30,378.60 L251.30,375.40 Z" fill="#111"/>
<line x1="271.2" y1="360.6" x2="266.13344674663955" y2="362.6406950603813" stroke="#111" stroke-width="1.0"/>
<path d="M264.00,363.50 L265.81,361.04 L267.01,364.01 Z" fill="#111"/>
<text x="63.55" y="419.5" font-size="8.6" text-anchor="middle" fill="#1c1c1c" textLength="72.5" lengthAdjust="spacingAndGlyphs">0.5μg/mL Collagen</text>
<line x1="27.3" y1="420.9" x2="99.8" y2="420.9" stroke="#111" stroke-width="1.0"/>
<line x1="33.5" y1="434.0" x2="33.5" y2="482.0" stroke="#0a0a0a" stroke-width="1.0"/>
<line x1="33.0" y1="481.5" x2="93.4" y2="481.5" stroke="#0a0a0a" stroke-width="1.0"/>
<line x1="30.1" y1="436.8" x2="33.0" y2="436.8" stroke="#111" stroke-width="0.9"/>
<text x="29.4" y="439.05" font-size="6.4" text-anchor="end" fill="#1c1c1c">-20</text>
<line x1="30.1" y1="444.1666666666667" x2="33.0" y2="444.1666666666667" stroke="#111" stroke-width="0.9"/>
<text x="29.4" y="446.4166666666667" font-size="6.4" text-anchor="end" fill="#1c1c1c">0</text>
<line x1="30.1" y1="451.53333333333336" x2="33.0" y2="451.53333333333336" stroke="#111" stroke-width="0.9"/>
<text x="29.4" y="453.78333333333336" font-size="6.4" text-anchor="end" fill="#1c1c1c">20</text>
<line x1="30.1" y1="458.9" x2="33.0" y2="458.9" stroke="#111" stroke-width="0.9"/>
<text x="29.4" y="461.15" font-size="6.4" text-anchor="end" fill="#1c1c1c">40</text>
<line x1="30.1" y1="466.26666666666665" x2="33.0" y2="466.26666666666665" stroke="#111" stroke-width="0.9"/>
<text x="29.4" y="468.51666666666665" font-size="6.4" text-anchor="end" fill="#1c1c1c">60</text>
<line x1="30.1" y1="473.6333333333333" x2="33.0" y2="473.6333333333333" stroke="#111" stroke-width="0.9"/>
<text x="29.4" y="475.8833333333333" font-size="6.4" text-anchor="end" fill="#1c1c1c">80</text>
<line x1="30.1" y1="481.0" x2="33.0" y2="481.0" stroke="#111" stroke-width="0.9"/>
<text x="29.4" y="483.25" font-size="6.4" text-anchor="end" fill="#1c1c1c">100</text>
<line x1="33.0" y1="481.3" x2="33.0" y2="483.6" stroke="#111" stroke-width="0.9"/>
<text x="33.0" y="490.8" font-size="6.4" text-anchor="middle" fill="#1c1c1c">0</text>
<line x1="43.1" y1="481.3" x2="43.1" y2="483.6" stroke="#111" stroke-width="0.9"/>
<text x="43.1" y="490.8" font-size="6.4" text-anchor="middle" fill="#1c1c1c">1</text>
<line x1="53.7" y1="481.3" x2="53.7" y2="483.6" stroke="#111" stroke-width="0.9"/>
<text x="53.7" y="490.8" font-size="6.4" text-anchor="middle" fill="#1c1c1c">2</text>
<line x1="64.3" y1="481.3" x2="64.3" y2="483.6" stroke="#111" stroke-width="0.9"/>
<text x="64.3" y="490.8" font-size="6.4" text-anchor="middle" fill="#1c1c1c">3</text>
<line x1="75.1" y1="481.3" x2="75.1" y2="483.6" stroke="#111" stroke-width="0.9"/>
<text x="75.1" y="490.8" font-size="6.4" text-anchor="middle" fill="#1c1c1c">4</text>
<line x1="85.3" y1="481.3" x2="85.3" y2="483.6" stroke="#111" stroke-width="0.9"/>
<text x="85.3" y="490.8" font-size="6.4" text-anchor="middle" fill="#1c1c1c">5</text>
<text x="13.8" y="457.15" font-size="8.2" text-anchor="middle" fill="#1c1c1c" transform="rotate(-90 13.8 457.15)" textLength="47" lengthAdjust="spacingAndGlyphs">Transmittance</text>
<text x="64.0" y="501.7" font-size="9.2" text-anchor="middle" fill="#1c1c1c">min</text>
<path d="M33.00,444.54 L33.07,444.54 L33.14,444.55 L33.21,444.56 L33.30,444.57 L33.40,444.58 L33.53,444.59 L33.69,444.59 L33.89,444.58 L34.13,444.56 L34.41,444.54 L34.76,444.50 L35.17,444.47 L35.63,444.44 L36.13,444.40 L36.66,444.35 L37.20,444.29 L37.74,444.20 L38.27,444.10 L38.79,443.96 L39.26,443.80 L39.72,443.58 L40.19,443.31 L40.66,443.00 L41.13,442.66 L41.58,442.30 L42.02,441.95 L42.44,441.62 L42.84,441.31 L43.20,441.05 L43.52,440.85 L43.78,440.71 L43.97,440.61 L44.11,440.54 L44.22,440.50 L44.31,440.48 L44.42,440.48 L44.55,440.49 L44.73,440.49 L44.99,440.49 L45.33,440.48 L45.76,440.46 L46.26,440.44 L46.83,440.41 L47.44,440.39 L48.08,440.37 L48.75,440.36 L49.42,440.36 L50.09,440.38 L50.74,440.42 L51.37,440.48 L51.97,440.57 L52.58,440.67 L53.18,440.79 L53.78,440.93 L54.39,441.08 L54.99,441.24 L55.60,441.41 L56.20,441.59 L56.81,441.77 L57.41,441.96 L58.01,442.15 L58.60,442.37 L59.18,442.60 L59.77,442.84 L60.35,443.08 L60.94,443.33 L61.54,443.56 L62.16,443.78 L62.80,443.99 L63.45,444.17 L64.12,444.32 L64.80,444.45 L65.49,444.57 L66.19,444.67 L66.90,444.77 L67.64,444.86 L68.39,444.95 L69.16,445.04 L69.96,445.15 L70.78,445.27 L71.62,445.41 L72.48,445.55 L73.36,445.71 L74.26,445.87 L75.18,446.03 L76.13,446.19 L77.10,446.35 L78.10,446.49 L79.13,446.63 L80.20,446.75 L81.36,446.85 L82.66,446.95 L84.05,447.04 L85.48,447.13 L86.91,447.21 L88.29,447.28 L89.58,447.34 L90.73,447.39 L91.70,447.44 L92.44,447.48" stroke="#d2bac2" stroke-width="1.0" fill="none" stroke-linejoin="round" stroke-linecap="round"/>
<path d="M33.00,444.54 L33.07,444.54 L33.14,444.55 L33.21,444.56 L33.30,444.57 L33.40,444.58 L33.53,444.59 L33.69,444.59 L33.89,444.58 L34.13,444.56 L34.41,444.54 L34.76,444.50 L35.17,444.47 L35.63,444.44 L36.13,444.40 L36.66,444.35 L37.20,444.29 L37.74,444.20 L38.27,444.10 L38.79,443.96 L39.26,443.80 L39.72,443.58 L40.19,443.31 L40.66,443.00 L41.13,442.66 L41.58,442.30 L42.02,441.95 L42.44,441.62 L42.84,441.31 L43.20,441.05 L43.52,440.85 L43.80,440.68 L44.01,440.52 L44.19,440.37 L44.34,440.24 L44.47,440.14 L44.59,440.08 L44.73,440.08 L44.89,440.14 L45.08,440.27 L45.33,440.48 L45.62,440.79 L45.94,441.19 L46.29,441.67 L46.67,442.22 L47.06,442.81 L47.45,443.44 L47.84,444.08 L48.22,444.74 L48.59,445.38 L48.93,446.01 L49.25,446.63 L49.54,447.28 L49.83,447.95 L50.10,448.63 L50.37,449.32 L50.65,450.01 L50.93,450.70 L51.23,451.37 L51.55,452.02 L51.90,452.64 L52.26,453.24 L52.62,453.84 L52.98,454.44 L53.35,455.02 L53.75,455.58 L54.16,456.14 L54.60,456.68 L55.07,457.19 L55.58,457.69 L56.14,458.16 L56.73,458.61 L57.36,459.02 L58.03,459.42 L58.72,459.79 L59.45,460.14 L60.20,460.49 L60.98,460.83 L61.78,461.16 L62.61,461.50 L63.45,461.85 L64.33,462.20 L65.26,462.56 L66.22,462.93 L67.20,463.29 L68.21,463.64 L69.23,463.99 L70.25,464.31 L71.27,464.62 L72.28,464.91 L73.26,465.16 L74.24,465.39 L75.23,465.59 L76.22,465.77 L77.21,465.94 L78.19,466.08 L79.17,466.21 L80.14,466.33 L81.10,466.44 L82.04,466.54 L82.95,466.63 L83.89,466.72 L84.86,466.79 L85.85,466.84 L86.83,466.88 L87.79,466.91 L88.70,466.94 L89.54,466.95 L90.29,466.97 L90.92,466.99 L91.42,467.00" stroke="#8484bc" stroke-width="1.0" fill="none" stroke-linejoin="round" stroke-linecap="round"/>
<text x="38.7" y="460.9" font-size="6.0" text-anchor="start" fill="#1c1c1c">WT</text>
<text x="79.5" y="443.7" font-size="5.6" text-anchor="start" font-style="italic" fill="#1c1c1c">Ask1-/-</text>
<line x1="47.7" y1="459.0" x2="53.49999999999999" y2="459.0" stroke="#111" stroke-width="1.0"/>
<path d="M55.80,459.00 L53.20,460.60 L53.20,457.40 Z" fill="#111"/>
<line x1="77.1" y1="443.8" x2="72.86775603655362" y2="444.5162259015063" stroke="#111" stroke-width="1.0"/>
<path d="M70.60,444.90 L72.90,442.89 L73.43,446.04 Z" fill="#111"/>
<text x="163.3" y="419.5" font-size="8.6" text-anchor="middle" fill="#1c1c1c" textLength="65.0" lengthAdjust="spacingAndGlyphs">1μg/mL Collagen</text>
<line x1="130.8" y1="420.9" x2="195.8" y2="420.9" stroke="#111" stroke-width="1.0"/>
<line x1="132.5" y1="435.6" x2="132.5" y2="482.0" stroke="#0a0a0a" stroke-width="1.0"/>
<line x1="132.0" y1="481.5" x2="191.8" y2="481.5" stroke="#0a0a0a" stroke-width="1.0"/>
<line x1="129.7" y1="438.4" x2="132.6" y2="438.4" stroke="#111" stroke-width="0.9"/>
<text x="129.0" y="440.65" font-size="6.4" text-anchor="end" fill="#1c1c1c">-20</text>
<line x1="129.7" y1="445.5" x2="132.6" y2="445.5" stroke="#111" stroke-width="0.9"/>
<text x="129.0" y="447.75" font-size="6.4" text-anchor="end" fill="#1c1c1c">0</text>
<line x1="129.7" y1="452.59999999999997" x2="132.6" y2="452.59999999999997" stroke="#111" stroke-width="0.9"/>
<text x="129.0" y="454.84999999999997" font-size="6.4" text-anchor="end" fill="#1c1c1c">20</text>
<line x1="129.7" y1="459.7" x2="132.6" y2="459.7" stroke="#111" stroke-width="0.9"/>
<text x="129.0" y="461.95" font-size="6.4" text-anchor="end" fill="#1c1c1c">40</text>
<line x1="129.7" y1="466.8" x2="132.6" y2="466.8" stroke="#111" stroke-width="0.9"/>
<text x="129.0" y="469.05" font-size="6.4" text-anchor="end" fill="#1c1c1c">60</text>
<line x1="129.7" y1="473.9" x2="132.6" y2="473.9" stroke="#111" stroke-width="0.9"/>
<text x="129.0" y="476.15" font-size="6.4" text-anchor="end" fill="#1c1c1c">80</text>
<line x1="129.7" y1="481.0" x2="132.6" y2="481.0" stroke="#111" stroke-width="0.9"/>
<text x="129.0" y="483.25" font-size="6.4" text-anchor="end" fill="#1c1c1c">100</text>
<line x1="132.6" y1="481.3" x2="132.6" y2="483.6" stroke="#111" stroke-width="0.9"/>
<text x="132.6" y="490.8" font-size="6.4" text-anchor="middle" fill="#1c1c1c">0</text>
<line x1="142.0" y1="481.3" x2="142.0" y2="483.6" stroke="#111" stroke-width="0.9"/>
<text x="142.0" y="490.8" font-size="6.4" text-anchor="middle" fill="#1c1c1c">1</text>
<line x1="152.3" y1="481.3" x2="152.3" y2="483.6" stroke="#111" stroke-width="0.9"/>
<text x="152.3" y="490.8" font-size="6.4" text-anchor="middle" fill="#1c1c1c">2</text>
<line x1="162.4" y1="481.3" x2="162.4" y2="483.6" stroke="#111" stroke-width="0.9"/>
<text x="162.4" y="490.8" font-size="6.4" text-anchor="middle" fill="#1c1c1c">3</text>
<line x1="173.0" y1="481.3" x2="173.0" y2="483.6" stroke="#111" stroke-width="0.9"/>
<text x="173.0" y="490.8" font-size="6.4" text-anchor="middle" fill="#1c1c1c">4</text>
<line x1="183.3" y1="481.3" x2="183.3" y2="483.6" stroke="#111" stroke-width="0.9"/>
<text x="183.3" y="490.8" font-size="6.4" text-anchor="middle" fill="#1c1c1c">5</text>
<text x="113.8" y="457.95000000000005" font-size="8.2" text-anchor="middle" fill="#1c1c1c" transform="rotate(-90 113.8 457.95000000000005)" textLength="47" lengthAdjust="spacingAndGlyphs">Transmittance</text>
<text x="162.0" y="501.7" font-size="9.2" text-anchor="middle" fill="#1c1c1c">min</text>
<path d="M132.60,445.50 L132.92,445.52 L133.33,445.57 L133.81,445.63 L134.35,445.70 L134.93,445.77 L135.54,445.81 L136.16,445.81 L136.79,445.77 L137.39,445.67 L137.96,445.50 L138.51,445.21 L139.08,444.78 L139.66,444.26 L140.24,443.68 L140.82,443.08 L141.40,442.51 L141.96,442.00 L142.51,441.59 L143.04,441.33 L143.54,441.24 L144.03,441.34 L144.49,441.59 L144.93,441.96 L145.37,442.43 L145.79,442.97 L146.20,443.56 L146.60,444.16 L146.99,444.77 L147.38,445.34 L147.77,445.85 L148.15,446.35 L148.52,446.87 L148.89,447.40 L149.24,447.94 L149.59,448.47 L149.94,449.00 L150.28,449.51 L150.61,449.98 L150.94,450.43 L151.27,450.82 L151.58,451.17 L151.87,451.47 L152.14,451.73 L152.41,451.96 L152.67,452.18 L152.95,452.38 L153.24,452.59 L153.56,452.81 L153.92,453.04 L154.32,453.31 L154.75,453.60 L155.20,453.91 L155.67,454.24 L156.16,454.57 L156.68,454.91 L157.22,455.24 L157.80,455.58 L158.42,455.90 L159.07,456.21 L159.77,456.50 L160.52,456.79 L161.31,457.06 L162.13,457.33 L163.00,457.58 L163.89,457.84 L164.82,458.08 L165.77,458.32 L166.75,458.55 L167.75,458.77 L168.76,458.99 L169.81,459.20 L170.89,459.40 L172.02,459.60 L173.17,459.79 L174.34,459.97 L175.52,460.14 L176.71,460.31 L177.89,460.47 L179.06,460.62 L180.21,460.76 L181.40,460.91 L182.66,461.04 L183.97,461.17 L185.29,461.29 L186.59,461.41 L187.83,461.51 L188.98,461.61 L190.00,461.70 L190.87,461.77 L191.54,461.83" stroke="#d0b2ba" stroke-width="1.0" fill="none" stroke-linejoin="round" stroke-linecap="round"/>
<path d="M132.60,445.50 L132.92,445.52 L133.33,445.57 L133.81,445.63 L134.35,445.70 L134.93,445.77 L135.54,445.81 L136.16,445.81 L136.79,445.77 L137.39,445.67 L137.96,445.50 L138.51,445.21 L139.08,444.78 L139.66,444.26 L140.24,443.68 L140.82,443.08 L141.40,442.51 L141.96,442.00 L142.51,441.59 L143.04,441.33 L143.54,441.24 L144.03,441.34 L144.49,441.59 L144.93,441.96 L145.37,442.43 L145.79,442.97 L146.20,443.56 L146.60,444.16 L146.99,444.77 L147.38,445.34 L147.77,445.85 L148.16,446.36 L148.57,446.91 L148.98,447.48 L149.39,448.06 L149.78,448.63 L150.16,449.18 L150.50,449.69 L150.81,450.14 L151.06,450.53 L151.27,450.82" stroke="#a8a0c8" stroke-width="1.0" fill="none" stroke-linejoin="round" stroke-linecap="round"/>
<path d="M148.18,446.92 L148.37,447.19 L148.62,447.52 L148.92,447.92 L149.25,448.37 L149.60,448.85 L149.97,449.37 L150.33,449.90 L150.68,450.45 L150.99,451.00 L151.27,451.53 L151.51,452.09 L151.73,452.67 L151.92,453.27 L152.11,453.90 L152.29,454.53 L152.46,455.16 L152.64,455.79 L152.82,456.41 L153.00,457.00 L153.21,457.57 L153.42,458.12 L153.62,458.45 L153.82,458.79 L154.02,459.92 L154.23,459.74 L154.45,460.80 L154.68,461.08 L154.94,461.17 L155.22,462.14 L155.53,461.98 L155.86,462.83 L156.18,462.74 L156.51,463.08 L156.86,463.77 L157.24,464.53 L157.64,463.95 L158.09,464.32 L158.59,465.04 L159.15,465.67 L159.77,465.47 L160.47,465.50 L161.23,466.42 L162.04,465.52 L162.91,466.70 L163.82,466.21 L164.76,466.24 L165.73,466.41 L166.73,466.84 L167.74,467.67 L168.76,467.13 L169.81,467.84 L170.89,468.16 L172.02,468.09 L173.17,468.55 L174.34,468.23 L175.52,468.48 L176.71,468.91 L177.89,469.73 L179.06,469.67 L180.21,469.77 L181.40,470.33 L182.66,470.42 L183.97,470.49 L185.29,471.33 L186.59,471.45 L187.83,471.14 L188.98,471.74 L190.00,471.87 L190.87,472.45 L191.54,472.40" stroke="#5c5cc8" stroke-width="1.1" fill="none" stroke-linejoin="round" stroke-linecap="round"/>
<text x="144.4" y="470.1" font-size="6.0" text-anchor="start" fill="#1c1c1c">WT</text>
<text x="160.8" y="451.8" font-size="5.6" text-anchor="start" font-style="italic" fill="#1c1c1c">Ask1-/-</text>
<line x1="154.2" y1="468.2" x2="158.50000000000003" y2="468.2" stroke="#111" stroke-width="1.0"/>
<path d="M160.80,468.20 L158.20,469.80 L158.20,466.60 Z" fill="#111"/>
<line x1="159.9" y1="449.5" x2="156.30631288022607" y2="451.07617856130435" stroke="#111" stroke-width="1.0"/>
<path d="M154.20,452.00 L155.94,449.49 L157.22,452.42 Z" fill="#111"/>
<text x="270.0" y="419.5" font-size="8.6" text-anchor="middle" fill="#1c1c1c" textLength="65.4" lengthAdjust="spacingAndGlyphs">5μg/mL Collagen</text>
<line x1="237.3" y1="420.9" x2="302.7" y2="420.9" stroke="#111" stroke-width="1.0"/>
<line x1="233.5" y1="426.4" x2="233.5" y2="481.0" stroke="#0a0a0a" stroke-width="1.0"/>
<line x1="233.0" y1="480.5" x2="307.3" y2="480.5" stroke="#0a0a0a" stroke-width="1.0"/>
<line x1="230.4" y1="428.2" x2="233.3" y2="428.2" stroke="#111" stroke-width="0.9"/>
<text x="229.70000000000002" y="430.45" font-size="6.4" text-anchor="end" fill="#1c1c1c">-20</text>
<line x1="230.4" y1="436.98333333333335" x2="233.3" y2="436.98333333333335" stroke="#111" stroke-width="0.9"/>
<text x="229.70000000000002" y="439.23333333333335" font-size="6.4" text-anchor="end" fill="#1c1c1c">0</text>
<line x1="230.4" y1="445.76666666666665" x2="233.3" y2="445.76666666666665" stroke="#111" stroke-width="0.9"/>
<text x="229.70000000000002" y="448.01666666666665" font-size="6.4" text-anchor="end" fill="#1c1c1c">20</text>
<line x1="230.4" y1="454.54999999999995" x2="233.3" y2="454.54999999999995" stroke="#111" stroke-width="0.9"/>
<text x="229.70000000000002" y="456.79999999999995" font-size="6.4" text-anchor="end" fill="#1c1c1c">40</text>
<line x1="230.4" y1="463.3333333333333" x2="233.3" y2="463.3333333333333" stroke="#111" stroke-width="0.9"/>
<text x="229.70000000000002" y="465.5833333333333" font-size="6.4" text-anchor="end" fill="#1c1c1c">60</text>
<line x1="230.4" y1="472.1166666666667" x2="233.3" y2="472.1166666666667" stroke="#111" stroke-width="0.9"/>
<text x="229.70000000000002" y="474.3666666666667" font-size="6.4" text-anchor="end" fill="#1c1c1c">80</text>
<line x1="230.4" y1="480.9" x2="233.3" y2="480.9" stroke="#111" stroke-width="0.9"/>
<text x="229.70000000000002" y="483.15" font-size="6.4" text-anchor="end" fill="#1c1c1c">100</text>
<line x1="233.3" y1="480.9" x2="233.3" y2="483.2" stroke="#111" stroke-width="0.9"/>
<text x="233.3" y="490.4" font-size="6.4" text-anchor="middle" fill="#1c1c1c">0</text>
<line x1="246.1" y1="480.9" x2="246.1" y2="483.2" stroke="#111" stroke-width="0.9"/>
<text x="246.1" y="490.4" font-size="6.4" text-anchor="middle" fill="#1c1c1c">1</text>
<line x1="258.5" y1="480.9" x2="258.5" y2="483.2" stroke="#111" stroke-width="0.9"/>
<text x="258.5" y="490.4" font-size="6.4" text-anchor="middle" fill="#1c1c1c">2</text>
<line x1="270.8" y1="480.9" x2="270.8" y2="483.2" stroke="#111" stroke-width="0.9"/>
<text x="270.8" y="490.4" font-size="6.4" text-anchor="middle" fill="#1c1c1c">3</text>
<line x1="283.0" y1="480.9" x2="283.0" y2="483.2" stroke="#111" stroke-width="0.9"/>
<text x="283.0" y="490.4" font-size="6.4" text-anchor="middle" fill="#1c1c1c">4</text>
<line x1="295.1" y1="480.9" x2="295.1" y2="483.2" stroke="#111" stroke-width="0.9"/>
<text x="295.1" y="490.4" font-size="6.4" text-anchor="middle" fill="#1c1c1c">5</text>
<text x="215.2" y="453.15" font-size="8.2" text-anchor="middle" fill="#1c1c1c" transform="rotate(-90 215.2 453.15)" textLength="47" lengthAdjust="spacingAndGlyphs">Transmittance</text>
<text x="265.0" y="501.29999999999995" font-size="9.2" text-anchor="middle" fill="#1c1c1c">min</text>
<path d="M233.30,436.98 L233.41,436.68 L233.55,437.03 L233.71,436.85 L233.90,437.12 L234.10,437.15 L234.31,436.52 L234.54,436.41 L234.76,437.24 L234.99,436.47 L235.22,436.25 L235.45,436.81 L235.70,435.85 L235.96,435.81 L236.23,434.92 L236.50,434.58 L236.77,433.55 L237.04,433.62 L237.30,433.48 L237.55,432.80 L237.78,432.86 L238.00,432.74 L238.20,432.16 L238.39,433.11 L238.58,433.17 L238.76,433.14 L238.94,433.14 L239.12,434.33 L239.30,434.13 L239.50,434.55 L239.70,434.77 L239.91,434.51 L240.13,434.58 L240.35,433.77 L240.58,433.94 L240.81,433.24 L241.05,433.48 L241.28,433.13 L241.52,432.02 L241.76,431.86 L242.00,431.84 L242.25,432.59 L242.50,431.94 L242.76,432.09 L243.02,431.71 L243.28,431.94 L243.54,431.87 L243.80,431.96 L244.06,432.42 L244.31,432.72 L244.56,433.48 L244.81,433.77 L245.05,434.71 L245.29,435.41 L245.53,436.41 L245.76,436.98 L246.00,437.37 L246.24,439.10 L246.48,440.15 L246.72,440.99 L246.97,441.45 L247.21,442.40 L247.44,442.62 L247.67,444.07 L247.90,444.55 L248.13,444.98 L248.38,445.48 L248.64,447.08 L248.92,447.96 L249.23,447.68 L249.57,449.17 L249.94,449.45 L250.34,449.87 L250.75,450.72 L251.18,451.94 L251.63,452.74 L252.11,452.49 L252.59,453.77 L253.10,453.76 L253.62,455.10 L254.16,455.24 L254.72,456.38 L255.29,457.00 L255.89,456.95 L256.51,457.95 L257.14,457.63 L257.79,457.80 L258.44,458.78 L259.11,458.55 L259.79,459.11 L260.47,459.72 L261.16,460.31 L261.85,460.18 L262.55,460.40 L263.26,461.65 L263.99,461.37 L264.72,462.39 L265.48,462.61 L266.25,462.31 L267.04,462.64 L267.85,462.92 L268.66,463.22 L269.46,463.29 L270.27,463.33 L271.08,463.45 L271.92,463.85 L272.80,463.41 L273.73,463.37 L274.71,463.76 L275.76,463.33 L276.90,463.55 L278.13,464.50 L279.45,464.23 L280.15,464.40 L280.84,463.94 L281.57,464.53 L282.30,464.85 L283.05,464.38 L283.80,465.19 L284.56,465.36 L285.33,464.88 L286.10,465.65 L286.88,465.62 L287.65,465.99 L288.42,465.77 L289.19,466.29 L289.96,466.45 L290.72,465.77 L291.47,465.92 L292.25,466.70 L293.04,467.11 L293.88,466.41 L294.72,466.73 L295.60,466.96 L296.47,466.74 L297.36,466.87 L298.25,466.89 L299.13,467.02 L300.00,467.34 L300.84,467.07 L301.68,467.22 L302.46,467.71 L303.24,466.95 L304.63,467.64 L305.81,467.91 L306.72,467.52" stroke="#d46a78" stroke-width="1.05" fill="none" stroke-linejoin="round" stroke-linecap="round"/>
<path d="M233.30,436.98 L233.41,437.11 L233.55,437.25 L233.71,437.32 L233.90,437.49 L234.10,437.27 L234.31,437.46 L234.54,436.43 L234.76,436.83 L234.99,437.22 L235.22,436.71 L235.45,436.71 L235.70,435.46 L235.96,435.40 L236.23,434.66 L236.50,434.48 L236.77,434.01 L237.04,432.93 L237.30,432.76 L237.55,432.53 L237.78,433.05 L238.00,432.85 L238.20,432.27 L238.39,433.15 L238.58,432.68 L238.76,433.49 L238.94,433.25 L239.12,433.38 L239.30,434.57 L239.50,433.99 L239.70,434.04 L239.91,434.81 L240.13,434.52 L240.35,433.65 L240.58,434.11 L240.81,433.35 L241.05,433.19 L241.28,432.39 L241.52,432.94 L241.76,432.48 L242.00,432.67 L242.25,432.52 L242.50,431.79 L242.76,431.80 L243.02,431.56 L243.28,431.54 L243.54,431.52 L243.80,431.90 L244.06,432.44 L244.31,432.08 L244.56,433.23 L244.81,433.39 L245.05,434.03 L245.29,435.36 L245.53,435.85 L245.76,436.59 L246.00,437.72 L246.24,438.93 L246.48,439.16 L246.72,441.07 L246.97,440.85 L247.21,442.44 L247.44,443.32 L247.67,443.18 L247.90,444.78 L248.13,445.07 L248.38,446.05 L248.64,446.15 L248.92,446.92 L249.23,447.78 L249.57,449.34 L249.94,449.21 L250.34,450.53 L250.75,451.42 L251.18,452.13 L251.63,452.16 L252.11,452.83 L252.59,453.67 L253.10,454.57 L253.62,454.43 L254.16,455.70 L254.72,456.29 L255.29,456.86 L255.89,456.44 L256.51,457.90 L257.14,457.39 L257.79,458.09 L258.44,458.79 L259.11,459.52 L259.79,459.27 L260.47,460.29 L261.16,460.23 L261.85,460.33 L262.55,460.67 L263.26,460.83 L263.99,461.03 L264.72,461.40 L265.48,462.29 L266.25,462.90 L267.04,462.26 L267.85,462.40 L268.66,463.68 L269.46,463.41 L270.27,463.47 L271.08,463.48 L271.92,464.07 L272.80,464.52 L273.73,464.31 L274.71,464.49 L275.76,464.33 L276.90,465.55 L278.13,464.88 L279.45,465.72 L280.15,466.28 L280.84,465.68 L281.57,466.53 L282.30,466.96 L283.05,466.80 L283.80,467.16 L284.56,466.61 L285.33,467.16 L286.10,467.03 L286.88,467.98 L287.65,467.56 L288.42,467.91 L289.19,468.68 L289.96,468.69 L290.72,468.97 L291.47,468.55 L292.25,468.73 L293.04,469.14 L293.88,469.00 L294.72,468.93 L295.60,469.19 L296.47,469.04 L297.36,469.42 L298.25,470.22 L299.13,470.31 L300.00,470.06 L300.84,470.03 L301.68,469.96 L302.46,469.79 L303.24,470.09 L303.94,470.74 L304.63,470.93 L305.81,470.52 L306.72,471.11" stroke="#6a6ac4" stroke-width="1.05" fill="none" stroke-linejoin="round" stroke-linecap="round"/>
<text x="248.8" y="469.7" font-size="6.0" text-anchor="start" fill="#1c1c1c">WT</text>
<text x="285.4" y="457.8" font-size="6.0" text-anchor="start" font-style="italic" fill="#1c1c1c">Ask1-/-</text>
<line x1="258.0" y1="467.0" x2="265.8031381497987" y2="464.58102717356235" stroke="#111" stroke-width="1.0"/>
<path d="M268.00,463.90 L265.99,466.20 L265.04,463.14 Z" fill="#111"/>
<line x1="284.1" y1="456.6" x2="275.6171204333223" y2="460.20122245755186" stroke="#111" stroke-width="1.0"/>
<path d="M273.50,461.10 L275.27,458.61 L276.52,461.56 Z" fill="#111"/>
<text x="65.2" y="514.5" font-size="8.6" text-anchor="middle" fill="#1c1c1c" textLength="59.6" lengthAdjust="spacingAndGlyphs">2nM 2MeSADP</text>
<line x1="35.4" y1="515.9" x2="95.0" y2="515.9" stroke="#111" stroke-width="1.0"/>
<line x1="32.5" y1="527.3" x2="32.5" y2="573.0" stroke="#0a0a0a" stroke-width="1.0"/>
<line x1="32.0" y1="572.5" x2="96.3" y2="572.5" stroke="#0a0a0a" stroke-width="1.0"/>
<line x1="29.300000000000004" y1="529.0" x2="32.2" y2="529.0" stroke="#111" stroke-width="0.9"/>
<text x="28.6" y="531.25" font-size="6.4" text-anchor="end" fill="#1c1c1c">-20</text>
<line x1="29.300000000000004" y1="536.3" x2="32.2" y2="536.3" stroke="#111" stroke-width="0.9"/>
<text x="28.6" y="538.55" font-size="6.4" text-anchor="end" fill="#1c1c1c">0</text>
<line x1="29.300000000000004" y1="543.6" x2="32.2" y2="543.6" stroke="#111" stroke-width="0.9"/>
<text x="28.6" y="545.85" font-size="6.4" text-anchor="end" fill="#1c1c1c">20</text>
<line x1="29.300000000000004" y1="550.9" x2="32.2" y2="550.9" stroke="#111" stroke-width="0.9"/>
<text x="28.6" y="553.15" font-size="6.4" text-anchor="end" fill="#1c1c1c">40</text>
<line x1="29.300000000000004" y1="558.1999999999999" x2="32.2" y2="558.1999999999999" stroke="#111" stroke-width="0.9"/>
<text x="28.6" y="560.4499999999999" font-size="6.4" text-anchor="end" fill="#1c1c1c">60</text>
<line x1="29.300000000000004" y1="565.5" x2="32.2" y2="565.5" stroke="#111" stroke-width="0.9"/>
<text x="28.6" y="567.75" font-size="6.4" text-anchor="end" fill="#1c1c1c">80</text>
<line x1="29.300000000000004" y1="572.8" x2="32.2" y2="572.8" stroke="#111" stroke-width="0.9"/>
<text x="28.6" y="575.05" font-size="6.4" text-anchor="end" fill="#1c1c1c">100</text>
<line x1="32.3" y1="572.9" x2="32.3" y2="575.1999999999999" stroke="#111" stroke-width="0.9"/>
<text x="32.3" y="582.4" font-size="6.4" text-anchor="middle" fill="#1c1c1c">0</text>
<line x1="42.3" y1="572.9" x2="42.3" y2="575.1999999999999" stroke="#111" stroke-width="0.9"/>
<text x="42.3" y="582.4" font-size="6.4" text-anchor="middle" fill="#1c1c1c">1</text>
<line x1="53.1" y1="572.9" x2="53.1" y2="575.1999999999999" stroke="#111" stroke-width="0.9"/>
<text x="53.1" y="582.4" font-size="6.4" text-anchor="middle" fill="#1c1c1c">2</text>
<line x1="64.0" y1="572.9" x2="64.0" y2="575.1999999999999" stroke="#111" stroke-width="0.9"/>
<text x="64.0" y="582.4" font-size="6.4" text-anchor="middle" fill="#1c1c1c">3</text>
<line x1="74.7" y1="572.9" x2="74.7" y2="575.1999999999999" stroke="#111" stroke-width="0.9"/>
<text x="74.7" y="582.4" font-size="6.4" text-anchor="middle" fill="#1c1c1c">4</text>
<line x1="85.1" y1="572.9" x2="85.1" y2="575.1999999999999" stroke="#111" stroke-width="0.9"/>
<text x="85.1" y="582.4" font-size="6.4" text-anchor="middle" fill="#1c1c1c">5</text>
<line x1="95.4" y1="572.9" x2="95.4" y2="575.1999999999999" stroke="#111" stroke-width="0.9"/>
<text x="95.4" y="582.4" font-size="6.4" text-anchor="middle" fill="#1c1c1c">6</text>
<text x="13.8" y="549.5999999999999" font-size="8.2" text-anchor="middle" fill="#1c1c1c" transform="rotate(-90 13.8 549.5999999999999)" textLength="47" lengthAdjust="spacingAndGlyphs">Transmittance</text>
<text x="66.0" y="593.3" font-size="9.2" text-anchor="middle" fill="#1c1c1c">min</text>
<path d="M32.50,537.03 L32.74,537.04 L33.05,537.07 L33.43,537.11 L33.85,537.15 L34.29,537.19 L34.75,537.21 L35.21,537.22 L35.65,537.19 L36.05,537.13 L36.40,537.03 L36.70,536.86 L36.98,536.61 L37.22,536.30 L37.46,535.96 L37.68,535.62 L37.90,535.28 L38.13,534.97 L38.36,534.72 L38.62,534.55 L38.90,534.48 L39.20,534.51 L39.51,534.65 L39.82,534.86 L40.15,535.13 L40.48,535.43 L40.82,535.75 L41.18,536.05 L41.54,536.31 L41.91,536.53 L42.30,536.66 L42.67,536.72 L43.01,536.71 L43.33,536.66 L43.66,536.58 L44.01,536.48 L44.41,536.38 L44.86,536.30 L45.38,536.25 L46.00,536.24 L46.73,536.30 L47.57,536.42 L48.52,536.57 L49.55,536.77 L50.66,536.99 L51.82,537.24 L53.04,537.49 L54.29,537.75 L55.56,538.01 L56.84,538.26 L58.11,538.49 L59.37,538.72 L60.62,538.95 L61.87,539.19 L63.14,539.44 L64.44,539.68 L65.81,539.91 L67.24,540.13 L68.76,540.34 L70.39,540.52 L72.13,540.68 L74.12,540.82 L76.41,540.93 L78.90,541.03 L81.50,541.11 L84.13,541.18 L86.68,541.24 L89.07,541.29 L91.21,541.33 L93.01,541.37 L94.37,541.41" stroke="#d8b4b4" stroke-width="1.0" fill="none" stroke-linejoin="round" stroke-linecap="round"/>
<path d="M32.50,537.03 L32.74,537.04 L33.05,537.07 L33.43,537.11 L33.85,537.15 L34.29,537.19 L34.75,537.21 L35.21,537.22 L35.65,537.19 L36.05,537.13 L36.40,537.03 L36.70,536.85 L36.98,536.58 L37.22,536.26 L37.46,535.89 L37.68,535.52 L37.90,535.17 L38.13,534.87 L38.36,534.63 L38.62,534.49 L38.90,534.48 L39.20,534.58 L39.52,534.78 L39.85,535.07 L40.19,535.42 L40.53,535.82 L40.88,536.26 L41.24,536.73 L41.60,537.20 L41.95,537.67 L42.30,538.12 L42.64,538.58 L42.98,539.05 L43.31,539.55 L43.64,540.06 L43.97,540.59 L44.31,541.12 L44.67,541.66 L45.04,542.19 L45.44,542.72 L45.86,543.24 L46.30,543.76 L46.74,544.30 L47.19,544.85 L47.66,545.40 L48.14,545.95 L48.65,546.48 L49.19,547.00 L49.77,547.49 L50.38,547.94 L51.05,548.35 L51.76,548.71 L52.52,549.05 L53.31,549.36 L54.14,549.64 L55.01,549.90 L55.90,550.13 L56.81,550.35 L57.74,550.55 L58.69,550.73 L59.64,550.90 L60.60,551.06 L61.57,551.20 L62.56,551.32 L63.57,551.43 L64.59,551.52 L65.65,551.58 L66.73,551.63 L67.85,551.65 L69.01,551.65 L70.21,551.63 L71.47,551.58 L72.82,551.49 L74.23,551.38 L75.68,551.24 L77.15,551.08 L78.62,550.91 L80.06,550.73 L81.46,550.54 L82.80,550.36 L84.06,550.17 L85.28,549.97 L86.51,549.74 L87.74,549.50 L88.93,549.24 L90.08,548.98 L91.16,548.73 L92.15,548.50 L93.02,548.29 L93.77,548.11 L94.37,547.98" stroke="#8686b8" stroke-width="1.0" fill="none" stroke-linejoin="round" stroke-linecap="round"/>
<text x="47.9" y="556.1" font-size="6.0" text-anchor="start" fill="#1c1c1c">WT</text>
<text x="79.9" y="537.2" font-size="5.6" text-anchor="start" font-style="italic" fill="#1c1c1c">Ask1-/-</text>
<line x1="59.1" y1="553.0" x2="64.6001889970832" y2="552.9294847564477" stroke="#111" stroke-width="1.0"/>
<path d="M66.90,552.90 L64.32,554.53 L64.28,551.33 Z" fill="#111"/>
<line x1="79.4" y1="537.3" x2="74.21702201074024" y2="539.5009906529732" stroke="#111" stroke-width="1.0"/>
<path d="M72.10,540.40 L73.87,537.91 L75.12,540.86 Z" fill="#111"/>
<text x="163.65" y="514.5" font-size="8.6" text-anchor="middle" fill="#1c1c1c" textLength="64.3" lengthAdjust="spacingAndGlyphs">25nM 2MeSADP</text>
<line x1="131.5" y1="515.9" x2="195.8" y2="515.9" stroke="#111" stroke-width="1.0"/>
<line x1="132.5" y1="527.3" x2="132.5" y2="573.0" stroke="#0a0a0a" stroke-width="1.0"/>
<line x1="132.0" y1="572.5" x2="194.9" y2="572.5" stroke="#0a0a0a" stroke-width="1.0"/>
<line x1="129.1" y1="528.7" x2="132.0" y2="528.7" stroke="#111" stroke-width="0.9"/>
<text x="128.4" y="530.95" font-size="6.4" text-anchor="end" fill="#1c1c1c">-20</text>
<line x1="129.1" y1="536.0500000000001" x2="132.0" y2="536.0500000000001" stroke="#111" stroke-width="0.9"/>
<text x="128.4" y="538.3000000000001" font-size="6.4" text-anchor="end" fill="#1c1c1c">0</text>
<line x1="129.1" y1="543.4" x2="132.0" y2="543.4" stroke="#111" stroke-width="0.9"/>
<text x="128.4" y="545.65" font-size="6.4" text-anchor="end" fill="#1c1c1c">20</text>
<line x1="129.1" y1="550.75" x2="132.0" y2="550.75" stroke="#111" stroke-width="0.9"/>
<text x="128.4" y="553.0" font-size="6.4" text-anchor="end" fill="#1c1c1c">40</text>
<line x1="129.1" y1="558.1" x2="132.0" y2="558.1" stroke="#111" stroke-width="0.9"/>
<text x="128.4" y="560.35" font-size="6.4" text-anchor="end" fill="#1c1c1c">60</text>
<line x1="129.1" y1="565.4499999999999" x2="132.0" y2="565.4499999999999" stroke="#111" stroke-width="0.9"/>
<text x="128.4" y="567.6999999999999" font-size="6.4" text-anchor="end" fill="#1c1c1c">80</text>
<line x1="129.1" y1="572.8" x2="132.0" y2="572.8" stroke="#111" stroke-width="0.9"/>
<text x="128.4" y="575.05" font-size="6.4" text-anchor="end" fill="#1c1c1c">100</text>
<line x1="132.3" y1="572.9" x2="132.3" y2="575.1999999999999" stroke="#111" stroke-width="0.9"/>
<text x="132.3" y="582.4" font-size="6.4" text-anchor="middle" fill="#1c1c1c">0</text>
<line x1="142.7" y1="572.9" x2="142.7" y2="575.1999999999999" stroke="#111" stroke-width="0.9"/>
<text x="142.7" y="582.4" font-size="6.4" text-anchor="middle" fill="#1c1c1c">1</text>
<line x1="153.4" y1="572.9" x2="153.4" y2="575.1999999999999" stroke="#111" stroke-width="0.9"/>
<text x="153.4" y="582.4" font-size="6.4" text-anchor="middle" fill="#1c1c1c">2</text>
<line x1="164.3" y1="572.9" x2="164.3" y2="575.1999999999999" stroke="#111" stroke-width="0.9"/>
<text x="164.3" y="582.4" font-size="6.4" text-anchor="middle" fill="#1c1c1c">3</text>
<line x1="175.2" y1="572.9" x2="175.2" y2="575.1999999999999" stroke="#111" stroke-width="0.9"/>
<text x="175.2" y="582.4" font-size="6.4" text-anchor="middle" fill="#1c1c1c">4</text>
<line x1="185.6" y1="572.9" x2="185.6" y2="575.1999999999999" stroke="#111" stroke-width="0.9"/>
<text x="185.6" y="582.4" font-size="6.4" text-anchor="middle" fill="#1c1c1c">5</text>
<text x="113.8" y="549.5999999999999" font-size="8.2" text-anchor="middle" fill="#1c1c1c" transform="rotate(-90 113.8 549.5999999999999)" textLength="47" lengthAdjust="spacingAndGlyphs">Transmittance</text>
<text x="164.3" y="593.3" font-size="9.2" text-anchor="middle" fill="#1c1c1c">min</text>
<path d="M132.51,536.60 L132.76,536.42 L133.09,536.18 L133.49,535.88 L133.94,535.55 L134.41,535.20 L134.90,534.85 L135.37,534.53 L135.82,534.24 L136.22,534.01 L136.56,533.85 L136.84,533.75 L137.06,533.71 L137.25,533.71 L137.42,533.75 L137.57,533.81 L137.72,533.89 L137.88,533.98 L138.06,534.07 L138.28,534.15 L138.54,534.21 L138.84,534.26 L139.16,534.29 L139.50,534.31 L139.86,534.34 L140.24,534.37 L140.63,534.42 L141.04,534.50 L141.45,534.61 L141.86,534.75 L142.28,534.95 L142.70,535.18 L143.12,535.45 L143.53,535.75 L143.95,536.08 L144.39,536.44 L144.85,536.83 L145.33,537.24 L145.84,537.68 L146.39,538.14 L146.98,538.62 L147.61,539.16 L148.27,539.75 L148.96,540.40 L149.68,541.08 L150.42,541.77 L151.20,542.46 L152.00,543.13 L152.84,543.77 L153.70,544.35 L154.60,544.87 L155.53,545.33 L156.50,545.75 L157.51,546.14 L158.55,546.49 L159.61,546.82 L160.70,547.13 L161.80,547.41 L162.92,547.68 L164.04,547.93 L165.17,548.18 L166.29,548.41 L167.39,548.61 L168.50,548.80 L169.61,548.97 L170.74,549.12 L171.91,549.25 L173.13,549.37 L174.40,549.48 L175.75,549.57 L177.18,549.65 L178.78,549.71 L180.60,549.74 L182.57,549.76 L184.61,549.75 L186.66,549.74 L188.65,549.72 L190.52,549.69 L192.18,549.67 L193.58,549.65 L194.65,549.65" stroke="#dc9aa0" stroke-width="1.0" fill="none" stroke-linejoin="round" stroke-linecap="round"/>
<path d="M132.51,536.60 L132.76,536.42 L133.10,536.16 L133.50,535.84 L133.95,535.49 L134.43,535.13 L134.91,534.78 L135.39,534.45 L135.83,534.17 L136.23,533.96 L136.56,533.85 L136.83,533.79 L137.07,533.75 L137.27,533.74 L137.44,533.78 L137.60,533.86 L137.74,533.99 L137.88,534.20 L138.02,534.48 L138.17,534.85 L138.33,535.32 L138.50,535.91 L138.67,536.64 L138.84,537.49 L139.01,538.42 L139.17,539.40 L139.34,540.41 L139.50,541.42 L139.66,542.39 L139.83,543.31 L140.00,544.13 L140.15,544.89 L140.30,545.60 L140.43,546.29 L140.57,546.96 L140.71,547.60 L140.85,548.24 L141.02,548.86 L141.20,549.32 L141.41,550.24 L141.66,550.88 L141.93,551.64 L142.22,551.83 L142.52,552.52 L142.84,553.12 L143.18,553.82 L143.54,554.81 L143.93,555.01 L144.35,555.89 L144.79,556.25 L145.27,556.85 L145.76,557.47 L146.28,558.27 L146.81,558.60 L147.37,558.66 L147.95,559.30 L148.57,559.64 L149.23,560.56 L149.93,560.91 L150.68,561.28 L151.47,561.64 L152.33,561.90 L153.24,562.33 L154.21,562.49 L155.21,562.37 L156.26,563.01 L157.33,562.96 L158.43,563.33 L159.54,563.37 L160.67,563.43 L161.79,563.52 L162.93,563.68 L164.09,563.71 L165.27,563.66 L166.47,564.22 L167.69,564.26 L168.92,564.42 L170.17,564.22 L171.44,564.11 L172.71,564.21 L174.00,563.72 L175.34,564.01 L176.04,563.77 L176.75,563.52 L177.48,563.45 L178.21,563.58 L178.95,563.30 L179.69,563.34 L180.43,563.33 L181.17,563.08 L181.89,562.78 L182.62,562.92 L183.32,562.63 L184.02,562.52 L185.35,562.28 L186.58,562.21 L187.68,561.84 L188.68,562.10 L189.61,562.17 L190.48,561.65 L191.28,561.75 L192.02,561.78 L192.68,561.05 L193.28,561.02 L193.81,561.39 L194.26,561.34 L194.65,561.14" stroke="#7c7cc4" stroke-width="1.0" fill="none" stroke-linejoin="round" stroke-linecap="round"/>
<text x="141.0" y="567.2" font-size="6.0" text-anchor="start" fill="#1c1c1c">WT</text>
<text x="162.6" y="545.0" font-size="6.0" text-anchor="start" font-style="italic" fill="#1c1c1c">Ask1-/-</text>
<line x1="151.3" y1="565.0" x2="157.70000000000002" y2="565.0" stroke="#111" stroke-width="1.0"/>
<path d="M160.00,565.00 L157.40,566.60 L157.40,563.40 Z" fill="#111"/>
<line x1="160.8" y1="542.8" x2="155.7" y2="542.8" stroke="#111" stroke-width="1.0"/>
<path d="M153.40,542.80 L156.00,541.20 L156.00,544.40 Z" fill="#111"/>
<text x="270.4" y="514.5" font-size="8.6" text-anchor="middle" fill="#1c1c1c" textLength="64.6" lengthAdjust="spacingAndGlyphs">50nM 2MeSADP</text>
<line x1="238.1" y1="515.9" x2="302.7" y2="515.9" stroke="#111" stroke-width="1.0"/>
<line x1="233.5" y1="521.4" x2="233.5" y2="574.0" stroke="#0a0a0a" stroke-width="1.0"/>
<line x1="233.0" y1="573.5" x2="305.5" y2="573.5" stroke="#0a0a0a" stroke-width="1.0"/>
<line x1="230.9" y1="523.2" x2="233.8" y2="523.2" stroke="#111" stroke-width="0.9"/>
<text x="230.20000000000002" y="525.45" font-size="6.4" text-anchor="end" fill="#1c1c1c">-20</text>
<line x1="230.9" y1="531.5166666666667" x2="233.8" y2="531.5166666666667" stroke="#111" stroke-width="0.9"/>
<text x="230.20000000000002" y="533.7666666666667" font-size="6.4" text-anchor="end" fill="#1c1c1c">0</text>
<line x1="230.9" y1="539.8333333333334" x2="233.8" y2="539.8333333333334" stroke="#111" stroke-width="0.9"/>
<text x="230.20000000000002" y="542.0833333333334" font-size="6.4" text-anchor="end" fill="#1c1c1c">20</text>
<line x1="230.9" y1="548.1500000000001" x2="233.8" y2="548.1500000000001" stroke="#111" stroke-width="0.9"/>
<text x="230.20000000000002" y="550.4000000000001" font-size="6.4" text-anchor="end" fill="#1c1c1c">40</text>
<line x1="230.9" y1="556.4666666666667" x2="233.8" y2="556.4666666666667" stroke="#111" stroke-width="0.9"/>
<text x="230.20000000000002" y="558.7166666666667" font-size="6.4" text-anchor="end" fill="#1c1c1c">60</text>
<line x1="230.9" y1="564.7833333333334" x2="233.8" y2="564.7833333333334" stroke="#111" stroke-width="0.9"/>
<text x="230.20000000000002" y="567.0333333333334" font-size="6.4" text-anchor="end" fill="#1c1c1c">80</text>
<line x1="230.9" y1="573.1" x2="233.8" y2="573.1" stroke="#111" stroke-width="0.9"/>
<text x="230.20000000000002" y="575.35" font-size="6.4" text-anchor="end" fill="#1c1c1c">100</text>
<line x1="233.8" y1="573.3" x2="233.8" y2="575.5999999999999" stroke="#111" stroke-width="0.9"/>
<text x="233.8" y="582.8" font-size="6.4" text-anchor="middle" fill="#1c1c1c">0</text>
<line x1="245.7" y1="573.3" x2="245.7" y2="575.5999999999999" stroke="#111" stroke-width="0.9"/>
<text x="245.7" y="582.8" font-size="6.4" text-anchor="middle" fill="#1c1c1c">1</text>
<line x1="258.0" y1="573.3" x2="258.0" y2="575.5999999999999" stroke="#111" stroke-width="0.9"/>
<text x="258.0" y="582.8" font-size="6.4" text-anchor="middle" fill="#1c1c1c">2</text>
<line x1="269.5" y1="573.3" x2="269.5" y2="575.5999999999999" stroke="#111" stroke-width="0.9"/>
<text x="269.5" y="582.8" font-size="6.4" text-anchor="middle" fill="#1c1c1c">3</text>
<line x1="281.4" y1="573.3" x2="281.4" y2="575.5999999999999" stroke="#111" stroke-width="0.9"/>
<text x="281.4" y="582.8" font-size="6.4" text-anchor="middle" fill="#1c1c1c">4</text>
<line x1="293.2" y1="573.3" x2="293.2" y2="575.5999999999999" stroke="#111" stroke-width="0.9"/>
<text x="293.2" y="582.8" font-size="6.4" text-anchor="middle" fill="#1c1c1c">5</text>
<line x1="305.0" y1="573.3" x2="305.0" y2="575.5999999999999" stroke="#111" stroke-width="0.9"/>
<text x="305.0" y="582.8" font-size="6.4" text-anchor="middle" fill="#1c1c1c">6</text>
<text x="215.2" y="546.8499999999999" font-size="8.2" text-anchor="middle" fill="#1c1c1c" transform="rotate(-90 215.2 546.8499999999999)" textLength="47" lengthAdjust="spacingAndGlyphs">Transmittance</text>
<text x="269.8" y="593.6999999999999" font-size="9.2" text-anchor="middle" fill="#1c1c1c">min</text>
<path d="M234.51,531.52 L234.72,531.51 L234.98,531.53 L235.29,531.55 L235.65,531.58 L236.02,531.59 L236.41,531.59 L236.80,531.54 L237.18,531.46 L237.53,531.31 L237.85,531.10 L238.13,530.77 L238.41,530.30 L238.68,529.73 L238.94,529.11 L239.19,528.48 L239.44,527.87 L239.67,527.33 L239.90,526.90 L240.13,526.62 L240.34,526.53 L240.55,526.62 L240.73,526.85 L240.90,527.19 L241.06,527.63 L241.22,528.16 L241.37,528.76 L241.54,529.41 L241.72,530.10 L241.91,530.81 L242.13,531.52 L242.37,532.28 L242.63,533.13 L242.90,534.06 L243.18,535.04 L243.47,536.04 L243.77,537.05 L244.07,538.03 L244.38,538.98 L244.68,539.87 L244.99,540.67 L245.29,541.39 L245.60,542.08 L245.91,542.72 L246.22,543.33 L246.54,543.91 L246.86,544.47 L247.18,545.00 L247.50,545.51 L247.83,546.00 L248.16,546.49 L248.46,546.94 L248.73,547.35 L248.97,547.72 L249.21,548.07 L249.47,548.41 L249.75,548.74 L250.09,549.08 L250.50,549.43 L251.00,549.81 L251.60,550.23 L252.31,550.69 L253.10,551.19 L253.96,551.73 L254.88,552.28 L255.87,552.83 L256.91,553.37 L257.99,553.90 L259.11,554.39 L260.27,554.83 L261.45,555.22 L262.61,555.55 L263.74,555.85 L264.85,556.12 L266.00,556.36 L267.22,556.57 L268.53,556.76 L269.98,556.92 L271.59,557.06 L273.40,557.19 L275.45,557.30 L277.91,557.38 L280.84,557.43 L284.10,557.45 L287.57,557.45 L291.10,557.43 L294.56,557.40 L297.82,557.36 L300.73,557.33 L303.17,557.31 L305.00,557.30" stroke="#d08890" stroke-width="1.15" fill="none" stroke-linejoin="round" stroke-linecap="round"/>
<path d="M234.51,531.52 L234.72,531.51 L234.98,531.53 L235.29,531.55 L235.65,531.58 L236.02,531.59 L236.41,531.59 L236.80,531.54 L237.18,531.46 L237.53,531.31 L237.85,531.10 L238.13,530.74 L238.41,530.18 L238.68,529.50 L238.94,528.75 L239.19,528.01 L239.44,527.33 L239.67,526.78 L239.90,526.42 L240.13,526.31 L240.34,526.53 L240.55,527.10 L240.75,528.00 L240.93,529.15 L241.11,530.49 L241.20,531.22 L241.28,531.96 L241.37,532.73 L241.45,533.49 L241.53,534.26 L241.62,535.03 L241.70,535.76 L241.78,536.50 L241.95,537.85 L242.13,538.97 L242.31,540.06 L242.48,541.28 L242.65,541.88 L242.81,542.79 L242.98,543.69 L243.16,544.21 L243.33,545.21 L243.52,546.03 L243.71,546.85 L243.91,547.03 L244.10,547.81 L244.27,548.22 L244.41,549.22 L244.56,549.61 L244.73,549.60 L244.92,550.69 L245.16,551.12 L245.47,551.36 L245.85,551.84 L246.31,552.07 L246.88,552.59 L247.53,553.63 L248.26,554.02 L249.04,554.85 L249.87,555.64 L250.74,556.22 L251.63,557.22 L252.53,557.86 L253.43,558.71 L254.31,558.98 L255.05,559.46 L255.60,559.69 L256.03,560.07 L256.46,560.15 L256.95,560.21 L257.61,560.87 L258.53,561.00 L259.80,561.02 L260.66,560.99 L261.51,560.77 L262.26,560.76 L263.00,560.85 L263.75,560.74 L264.51,561.26 L265.26,561.04 L266.02,561.39 L266.77,561.10 L267.54,561.52 L268.31,561.47 L269.08,560.90 L269.85,561.07 L270.62,561.59 L271.37,561.30 L272.11,561.67 L272.86,561.28 L273.60,561.07 L274.34,561.48 L275.09,561.60 L275.90,561.26 L276.70,561.15 L277.51,561.34 L278.32,561.80 L279.13,561.67 L279.94,561.24 L280.66,561.34 L281.38,561.25 L282.09,561.23 L282.81,561.76 L283.53,561.34 L284.25,561.62 L284.97,561.55 L285.68,561.38 L286.39,561.77 L287.10,561.36 L287.81,561.73 L288.52,561.37 L289.23,561.59 L289.94,561.46 L290.73,561.51 L291.51,562.01 L292.30,561.90 L293.08,561.57 L293.87,561.98 L294.65,561.52 L295.36,561.66 L296.06,561.99 L296.77,561.85 L297.47,561.48 L298.18,562.11 L298.88,561.58 L299.59,561.62 L300.29,561.99 L300.99,561.69 L301.70,561.68 L302.40,561.53 L303.27,561.56 L304.13,561.92 L305.00,561.69" stroke="#6464b8" stroke-width="1.15" fill="none" stroke-linejoin="round" stroke-linecap="round"/>
<text x="238.8" y="568.6" font-size="6.0" text-anchor="start" fill="#1c1c1c">WT</text>
<text x="267.1" y="552.2" font-size="6.0" text-anchor="start" font-style="italic" fill="#1c1c1c">Ask1-/-</text>
<line x1="248.8" y1="566.0" x2="262.1863657452312" y2="562.2243583795502" stroke="#111" stroke-width="1.0"/>
<path d="M264.40,561.60 L262.33,563.85 L261.46,560.77 Z" fill="#111"/>
<line x1="265.3" y1="550.0" x2="255.7" y2="550.0" stroke="#111" stroke-width="1.0"/>
<path d="M253.40,550.00 L256.00,548.40 L256.00,551.60 Z" fill="#111"/>
<line x1="376.5" y1="237.3" x2="376.5" y2="336.0" stroke="#0a0a0a" stroke-width="1.0"/>
<line x1="376.0" y1="335.5" x2="494.6" y2="335.5" stroke="#0a0a0a" stroke-width="1.0"/>
<line x1="373.7" y1="335.0" x2="376.3" y2="335.0" stroke="#111" stroke-width="1.0"/>
<text x="371.3" y="338.1" font-size="8.8" text-anchor="end" fill="#1c1c1c">0</text>
<line x1="373.7" y1="323.34" x2="376.3" y2="323.34" stroke="#111" stroke-width="1.0"/>
<text x="371.3" y="326.44" font-size="8.8" text-anchor="end" fill="#1c1c1c">1000</text>
<line x1="373.7" y1="311.68" x2="376.3" y2="311.68" stroke="#111" stroke-width="1.0"/>
<text x="371.3" y="314.78000000000003" font-size="8.8" text-anchor="end" fill="#1c1c1c">2000</text>
<line x1="373.7" y1="300.02" x2="376.3" y2="300.02" stroke="#111" stroke-width="1.0"/>
<text x="371.3" y="303.12" font-size="8.8" text-anchor="end" fill="#1c1c1c">3000</text>
<line x1="373.7" y1="288.36" x2="376.3" y2="288.36" stroke="#111" stroke-width="1.0"/>
<text x="371.3" y="291.46000000000004" font-size="8.8" text-anchor="end" fill="#1c1c1c">4000</text>
<line x1="373.7" y1="276.7" x2="376.3" y2="276.7" stroke="#111" stroke-width="1.0"/>
<text x="371.3" y="279.8" font-size="8.8" text-anchor="end" fill="#1c1c1c">5000</text>
<line x1="373.7" y1="265.03999999999996" x2="376.3" y2="265.03999999999996" stroke="#111" stroke-width="1.0"/>
<text x="371.3" y="268.14" font-size="8.8" text-anchor="end" fill="#1c1c1c">6000</text>
<line x1="373.7" y1="253.38" x2="376.3" y2="253.38" stroke="#111" stroke-width="1.0"/>
<text x="371.3" y="256.48" font-size="8.8" text-anchor="end" fill="#1c1c1c">7000</text>
<line x1="373.7" y1="241.72" x2="376.3" y2="241.72" stroke="#111" stroke-width="1.0"/>
<text x="371.3" y="244.82" font-size="8.8" text-anchor="end" fill="#1c1c1c">8000</text>
<line x1="381.5" y1="327.0" x2="381.5" y2="325.3" stroke="#151515" stroke-width="1.0"/>
<line x1="379.7" y1="325.3" x2="383.3" y2="325.3" stroke="#151515" stroke-width="1.2"/>
<rect x="376.80" y="327.00" width="9.50" height="8.00" fill="#ab0731" stroke="#7e0a26" stroke-width="0.5"/>
<line x1="392.5" y1="329.0" x2="392.5" y2="328.6" stroke="#151515" stroke-width="1.0"/>
<line x1="390.7" y1="328.6" x2="394.3" y2="328.6" stroke="#151515" stroke-width="1.2"/>
<rect x="387.60" y="329.00" width="8.90" height="6.00" fill="#2f4a80" stroke="#1c3260" stroke-width="0.5"/>
<line x1="413.5" y1="312.7" x2="413.5" y2="309.2" stroke="#151515" stroke-width="1.0"/>
<line x1="411.7" y1="309.2" x2="415.3" y2="309.2" stroke="#151515" stroke-width="1.2"/>
<rect x="408.70" y="312.70" width="9.10" height="22.30" fill="#ab0731" stroke="#7e0a26" stroke-width="0.5"/>
<line x1="423.5" y1="321.3" x2="423.5" y2="318.5" stroke="#151515" stroke-width="1.0"/>
<line x1="421.7" y1="318.5" x2="425.3" y2="318.5" stroke="#151515" stroke-width="1.2"/>
<rect x="419.20" y="321.30" width="9.10" height="13.70" fill="#2f4a80" stroke="#1c3260" stroke-width="0.5"/>
<line x1="444.5" y1="292.5" x2="444.5" y2="282.3" stroke="#151515" stroke-width="1.0"/>
<line x1="442.7" y1="282.3" x2="446.3" y2="282.3" stroke="#151515" stroke-width="1.2"/>
<rect x="440.40" y="292.50" width="8.80" height="42.50" fill="#ab0731" stroke="#7e0a26" stroke-width="0.5"/>
<line x1="455.5" y1="312.3" x2="455.5" y2="306.5" stroke="#151515" stroke-width="1.0"/>
<line x1="453.7" y1="306.5" x2="457.3" y2="306.5" stroke="#151515" stroke-width="1.2"/>
<rect x="451.00" y="312.30" width="8.60" height="22.70" fill="#2f4a80" stroke="#1c3260" stroke-width="0.5"/>
<line x1="476.5" y1="267.5" x2="476.5" y2="255.0" stroke="#151515" stroke-width="1.0"/>
<line x1="474.7" y1="255.0" x2="478.3" y2="255.0" stroke="#151515" stroke-width="1.2"/>
<rect x="472.10" y="267.50" width="8.80" height="67.50" fill="#ab0731" stroke="#7e0a26" stroke-width="0.5"/>
<line x1="487.5" y1="298.3" x2="487.5" y2="285.8" stroke="#151515" stroke-width="1.0"/>
<line x1="485.7" y1="285.8" x2="489.3" y2="285.8" stroke="#151515" stroke-width="1.2"/>
<rect x="482.70" y="298.30" width="8.60" height="36.70" fill="#2f4a80" stroke="#1c3260" stroke-width="0.5"/>
<path d="M410.6,301.2 L424.6,301.2 L424.6,314.6" stroke="#111" stroke-width="1.0" fill="none"/>
<text x="417.3" y="300.0" font-size="7" text-anchor="middle" fill="#1c1c1c">*</text>
<path d="M444.6,278.5 L456.7,278.5 L456.7,301.2" stroke="#111" stroke-width="1.0" fill="none"/>
<text x="450.4" y="277.3" font-size="7" text-anchor="middle" fill="#1c1c1c">*</text>
<rect x="384.00" y="245.40" width="8.00" height="6.60" fill="#ab0731"/>
<text x="393.0" y="251.3" font-size="7.6" text-anchor="start" fill="#1c1c1c">WT</text>
<rect x="384.00" y="254.60" width="8.00" height="6.60" fill="#2f4a80"/>
<text x="393.0" y="260.6" font-size="7.6" text-anchor="start" fill="#1c1c1c">Ask1-/-</text>
<text x="387.5" y="351.2" font-size="8.2" text-anchor="middle" fill="#1c1c1c">0</text>
<text x="418.0" y="351.2" font-size="8.2" text-anchor="middle" fill="#1c1c1c">35</text>
<text x="450.0" y="351.2" font-size="8.2" text-anchor="middle" fill="#1c1c1c">55</text>
<text x="481.0" y="351.2" font-size="8.2" text-anchor="middle" fill="#1c1c1c">100</text>
<text x="375.9" y="351.2" font-size="8.2" text-anchor="end" fill="#1c1c1c">AYPGKF (μM)</text>
<text x="335.6" y="286.5" font-size="8.8" text-anchor="middle" fill="#1c1c1c" transform="rotate(-90 335.6 286.5)">JON / A binding</text>
<text x="343.0" y="286.5" font-size="6.8" text-anchor="middle" fill="#3a3a3a" transform="rotate(-90 343.0 286.5)" style="stroke-width:0">mean fluorescence intensity</text>
<line x1="376.5" y1="396.4" x2="376.5" y2="477.0" stroke="#0a0a0a" stroke-width="1.0"/>
<line x1="376.0" y1="476.5" x2="512.6" y2="476.5" stroke="#0a0a0a" stroke-width="1.0"/>
<line x1="372.9" y1="476.4" x2="376.2" y2="476.4" stroke="#111" stroke-width="1.0"/>
<text x="370.3" y="479.29999999999995" font-size="8.0" text-anchor="end" fill="#1c1c1c">0</text>
<line x1="372.9" y1="461.03" x2="376.2" y2="461.03" stroke="#111" stroke-width="1.0"/>
<text x="370.3" y="463.92999999999995" font-size="8.0" text-anchor="end" fill="#1c1c1c">50</text>
<line x1="372.9" y1="445.65999999999997" x2="376.2" y2="445.65999999999997" stroke="#111" stroke-width="1.0"/>
<text x="370.3" y="448.55999999999995" font-size="8.0" text-anchor="end" fill="#1c1c1c">100</text>
<line x1="372.9" y1="430.28999999999996" x2="376.2" y2="430.28999999999996" stroke="#111" stroke-width="1.0"/>
<text x="370.3" y="433.18999999999994" font-size="8.0" text-anchor="end" fill="#1c1c1c">150</text>
<line x1="372.9" y1="414.91999999999996" x2="376.2" y2="414.91999999999996" stroke="#111" stroke-width="1.0"/>
<text x="370.3" y="417.81999999999994" font-size="8.0" text-anchor="end" fill="#1c1c1c">200</text>
<line x1="372.9" y1="399.54999999999995" x2="376.2" y2="399.54999999999995" stroke="#111" stroke-width="1.0"/>
<text x="370.3" y="402.44999999999993" font-size="8.0" text-anchor="end" fill="#1c1c1c">250</text>
<line x1="395.5" y1="451.6" x2="395.5" y2="445.5" stroke="#151515" stroke-width="1.0"/>
<line x1="393.7" y1="445.5" x2="397.3" y2="445.5" stroke="#151515" stroke-width="1.2"/>
<rect x="388.20" y="451.60" width="15.10" height="24.80" fill="#ab0731" stroke="#7e0a26" stroke-width="0.5"/>
<line x1="410.5" y1="458.5" x2="410.5" y2="453.7" stroke="#151515" stroke-width="1.0"/>
<line x1="408.7" y1="453.7" x2="412.3" y2="453.7" stroke="#151515" stroke-width="1.2"/>
<rect x="403.30" y="458.50" width="15.20" height="17.90" fill="#2f4a80" stroke="#1c3260" stroke-width="0.5"/>
<line x1="441.5" y1="432.9" x2="441.5" y2="423.4" stroke="#151515" stroke-width="1.0"/>
<line x1="439.7" y1="423.4" x2="443.3" y2="423.4" stroke="#151515" stroke-width="1.2"/>
<rect x="433.70" y="432.90" width="15.00" height="43.50" fill="#ab0731" stroke="#7e0a26" stroke-width="0.5"/>
<line x1="456.5" y1="458.3" x2="456.5" y2="454.0" stroke="#151515" stroke-width="1.0"/>
<line x1="454.7" y1="454.0" x2="458.3" y2="454.0" stroke="#151515" stroke-width="1.2"/>
<rect x="448.70" y="458.30" width="15.30" height="18.10" fill="#2f4a80" stroke="#1c3260" stroke-width="0.5"/>
<line x1="487.5" y1="412.2" x2="487.5" y2="405.0" stroke="#151515" stroke-width="1.0"/>
<line x1="485.7" y1="405.0" x2="489.3" y2="405.0" stroke="#151515" stroke-width="1.2"/>
<rect x="479.80" y="412.20" width="14.80" height="64.20" fill="#ab0731" stroke="#7e0a26" stroke-width="0.5"/>
<line x1="502.5" y1="426.5" x2="502.5" y2="415.5" stroke="#151515" stroke-width="1.0"/>
<line x1="500.7" y1="415.5" x2="504.3" y2="415.5" stroke="#151515" stroke-width="1.2"/>
<rect x="494.60" y="426.50" width="14.80" height="49.90" fill="#2f4a80" stroke="#1c3260" stroke-width="0.5"/>
<path d="M437.5,416.4 L454.8,416.4 L454.8,439.2" stroke="#111" stroke-width="1.0" fill="none"/>
<text x="446.0" y="415.0" font-size="7" text-anchor="middle" fill="#1c1c1c">*</text>
<rect x="394.70" y="391.40" width="8.60" height="5.80" fill="#ab0731"/>
<text x="405.5" y="397.0" font-size="7.6" text-anchor="start" fill="#1c1c1c">WT</text>
<rect x="435.40" y="391.20" width="8.40" height="6.00" fill="#2f4a80"/>
<text x="447.0" y="397.0" font-size="7.6" text-anchor="start" font-style="italic" fill="#1c1c1c">Ask1-/-</text>
<text x="402.0" y="492.9" font-size="8.2" text-anchor="middle" fill="#1c1c1c">50</text>
<text x="448.7" y="492.9" font-size="8.2" text-anchor="middle" fill="#1c1c1c">75</text>
<text x="494.6" y="492.9" font-size="8.2" text-anchor="middle" fill="#1c1c1c">100</text>
<text x="375.4" y="492.9" font-size="8.2" text-anchor="end" fill="#1c1c1c">AYPGKF (μM)</text>
<text x="340.5" y="437.7" font-size="8.8" text-anchor="middle" fill="#1c1c1c" transform="rotate(-90 340.5 437.7)">FITC-Fg binding</text>
<text x="349.0" y="436.4" font-size="6.8" text-anchor="middle" fill="#3a3a3a" transform="rotate(-90 349.0 436.4)" style="stroke-width:0">mean fluorescence intensity</text>
<rect x="0.6" y="0.8" width="518.4" height="599.2" fill="none" stroke="#000" stroke-width="1.8"/>
</svg>
</body></html>
